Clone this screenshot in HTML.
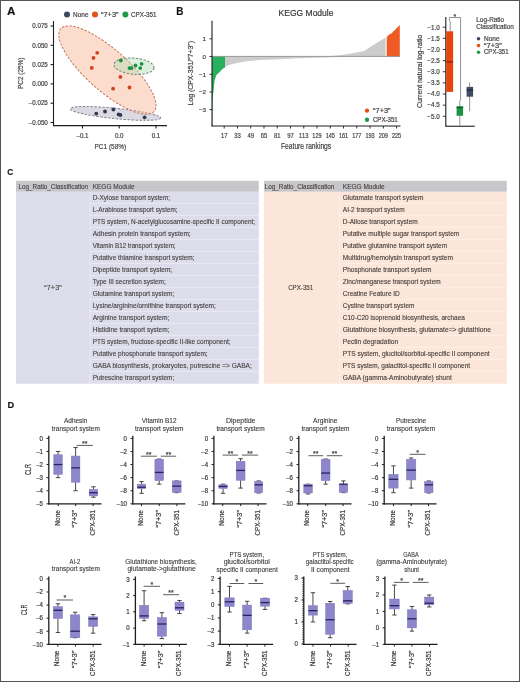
<!DOCTYPE html>
<html><head><meta charset="utf-8"><style>
html,body{margin:0;padding:0;background:#fff;width:520px;height:682px;overflow:hidden}
svg{display:block;font-family:"Liberation Sans", sans-serif;filter:blur(0.35px);}
text{stroke:#444;stroke-width:0.2px;}
text.t{stroke:#555;stroke-width:0.12px;}
</style></head><body>
<svg width="520" height="682" viewBox="0 0 520 682">
<rect x="0" y="0" width="520" height="682" fill="#fff"/>
<rect x="0.5" y="0.5" width="519" height="681" fill="none" stroke="#555" stroke-width="1"/>
<text x="7" y="14.9" font-size="11.0" text-anchor="start" fill="#111" font-weight="bold" textLength="8.4" lengthAdjust="spacingAndGlyphs">A</text>
<text x="176.2" y="15.2" font-size="11.0" text-anchor="start" fill="#111" font-weight="bold" textLength="7.2" lengthAdjust="spacingAndGlyphs">B</text>
<text x="7.2" y="174.7" font-size="9.6" text-anchor="start" fill="#111" font-weight="bold" textLength="6.0" lengthAdjust="spacingAndGlyphs">C</text>
<text x="7.4" y="407.8" font-size="9.4" text-anchor="start" fill="#111" font-weight="bold" textLength="6.7" lengthAdjust="spacingAndGlyphs">D</text>
<circle cx="67" cy="14.6" r="3" fill="#3c475f"/>
<text x="73.1" y="16.9" font-size="6.9" text-anchor="start" fill="#444" textLength="15.4" lengthAdjust="spacingAndGlyphs">None</text>
<circle cx="95" cy="14.6" r="3" fill="#e4501c"/>
<text x="101" y="16.9" font-size="6.9" text-anchor="start" fill="#444" textLength="17.5" lengthAdjust="spacingAndGlyphs">“7+3”</text>
<circle cx="125.4" cy="14.6" r="3" fill="#1f9a4a"/>
<text x="131" y="16.9" font-size="6.9" text-anchor="start" fill="#444" textLength="25.5" lengthAdjust="spacingAndGlyphs">CPX-351</text>
<ellipse cx="115.5" cy="113.45" rx="45.3" ry="5.2" transform="rotate(5.8 115.5 113.45)" fill="#d2d1dc" fill-opacity="0.8" stroke="#7c818e" stroke-width="1" stroke-dasharray="2.4 1.5"/>
<ellipse cx="107.4" cy="70.1" rx="62.4" ry="20.7" transform="rotate(41.6 107.4 70.1)" fill="#f9bfa2" fill-opacity="0.55" stroke="#c4775c" stroke-width="1" stroke-dasharray="2.4 1.5"/>
<ellipse cx="134.0" cy="66.15" rx="20.1" ry="8.1" transform="rotate(5.0 134.0 66.15)" fill="#b8dcb8" fill-opacity="0.45" stroke="#6f8c74" stroke-width="1" stroke-dasharray="2.4 1.5"/>
<circle cx="97.2" cy="52.8" r="1.9" fill="#d2401c"/>
<circle cx="93.5" cy="57.9" r="1.9" fill="#d2401c"/>
<circle cx="91.8" cy="67.9" r="1.9" fill="#d2401c"/>
<circle cx="120.4" cy="76.9" r="1.9" fill="#d2401c"/>
<circle cx="113.1" cy="88.7" r="1.9" fill="#d2401c"/>
<circle cx="129.5" cy="87.5" r="1.9" fill="#d2401c"/>
<circle cx="120.8" cy="60.5" r="1.9" fill="#169443"/>
<circle cx="129.5" cy="68.1" r="1.9" fill="#169443"/>
<circle cx="131.5" cy="68.1" r="1.9" fill="#169443"/>
<circle cx="135.5" cy="65.5" r="1.9" fill="#169443"/>
<circle cx="140.2" cy="68.1" r="1.9" fill="#169443"/>
<circle cx="141.6" cy="63.8" r="1.9" fill="#169443"/>
<circle cx="96.3" cy="113.6" r="1.9" fill="#2f3850"/>
<circle cx="105" cy="111.5" r="1.9" fill="#2f3850"/>
<circle cx="113.4" cy="109.5" r="1.9" fill="#2f3850"/>
<circle cx="118.6" cy="114.4" r="1.9" fill="#2f3850"/>
<circle cx="120.4" cy="115" r="1.9" fill="#2f3850"/>
<circle cx="144.6" cy="117.3" r="1.9" fill="#2f3850"/>
<line x1="53.5" y1="21" x2="53.5" y2="126" stroke="#1e1e1e" stroke-width="1.1"/>
<line x1="53" y1="125.6" x2="167" y2="125.6" stroke="#1e1e1e" stroke-width="1.1"/>
<line x1="50.6" y1="26" x2="53.5" y2="26" stroke="#1e1e1e" stroke-width="1.1"/>
<text x="47.8" y="28.2" font-size="6.6" text-anchor="end" fill="#444" textLength="15.52" lengthAdjust="spacingAndGlyphs">0.075</text>
<line x1="50.6" y1="45.3" x2="53.5" y2="45.3" stroke="#1e1e1e" stroke-width="1.1"/>
<text x="47.8" y="47.5" font-size="6.6" text-anchor="end" fill="#444" textLength="15.52" lengthAdjust="spacingAndGlyphs">0.050</text>
<line x1="50.6" y1="64.6" x2="53.5" y2="64.6" stroke="#1e1e1e" stroke-width="1.1"/>
<text x="47.8" y="66.8" font-size="6.6" text-anchor="end" fill="#444" textLength="15.52" lengthAdjust="spacingAndGlyphs">0.025</text>
<line x1="50.6" y1="83.9" x2="53.5" y2="83.9" stroke="#1e1e1e" stroke-width="1.1"/>
<text x="47.8" y="86.10000000000001" font-size="6.6" text-anchor="end" fill="#444" textLength="15.52" lengthAdjust="spacingAndGlyphs">0.000</text>
<line x1="50.6" y1="103.2" x2="53.5" y2="103.2" stroke="#1e1e1e" stroke-width="1.1"/>
<text x="47.8" y="105.4" font-size="6.6" text-anchor="end" fill="#444" textLength="18.96" lengthAdjust="spacingAndGlyphs">–0.025</text>
<line x1="50.6" y1="122.5" x2="53.5" y2="122.5" stroke="#1e1e1e" stroke-width="1.1"/>
<text x="47.8" y="124.7" font-size="6.6" text-anchor="end" fill="#444" textLength="18.96" lengthAdjust="spacingAndGlyphs">–0.050</text>
<line x1="82.5" y1="125.6" x2="82.5" y2="128.5" stroke="#1e1e1e" stroke-width="1.1"/>
<text x="82.5" y="137.8" font-size="6.6" text-anchor="middle" fill="#444" textLength="12.07" lengthAdjust="spacingAndGlyphs">–0.1</text>
<line x1="119.2" y1="125.6" x2="119.2" y2="128.5" stroke="#1e1e1e" stroke-width="1.1"/>
<text x="119.2" y="137.8" font-size="6.6" text-anchor="middle" fill="#444" textLength="8.62" lengthAdjust="spacingAndGlyphs">0.0</text>
<line x1="156" y1="125.6" x2="156" y2="128.5" stroke="#1e1e1e" stroke-width="1.1"/>
<text x="156" y="137.8" font-size="6.6" text-anchor="middle" fill="#444" textLength="8.62" lengthAdjust="spacingAndGlyphs">0.1</text>
<text x="110.4" y="149.1" font-size="7.7" text-anchor="middle" fill="#444" textLength="31.7" lengthAdjust="spacingAndGlyphs">PC1 (58%)</text>
<text x="23.4" y="73.3" font-size="7.9" text-anchor="middle" fill="#444" textLength="31.3" lengthAdjust="spacingAndGlyphs" transform="rotate(-90 23.4 73.3)">PC2 (25%)</text>
<text x="306.0" y="15.9" font-size="8.6" text-anchor="middle" fill="#333" textLength="55.0" lengthAdjust="spacingAndGlyphs">KEGG Module</text>
<polygon points="225,56.5 225,66.9 227.7,65.5 231.5,64.3 239.2,62.4 246.9,61.2 260,60.1 274,59.4 299,58.3 324,57.5 344,56.8 346,56.5" fill="#cccccc"/>
<polygon points="326,56.5 340,55.3 349.6,53.7 359.2,51.9 364,51 368.8,48.1 373.7,44.7 378.5,41.8 383.3,38.9 385.6,37.4 385.6,56.5" fill="#cccccc"/>
<polygon points="212,56.5 225,56.5 225,67.6 222.7,68.8 220.6,70.9 219.4,72.3 217.7,73.8 216.2,75.2 215.6,77.6 214.7,80 214.3,83.5 213.9,86.4 213.6,90.5 213,95.2 212.7,100 212.5,110 212.3,126 212,126" fill="#28b05e"/>
<polygon points="386.7,56.5 386.7,36.9 389.8,34 391.5,33.5 396,28.8 399.8,25.0 399.8,56.5" fill="#f05a24"/>
<line x1="212" y1="56.4" x2="400" y2="56.4" stroke="#8f8f8f" stroke-width="0.9"/>
<line x1="212" y1="20.8" x2="212" y2="126.3" stroke="#1e1e1e" stroke-width="1.1"/>
<line x1="211.5" y1="126" x2="400.5" y2="126" stroke="#1e1e1e" stroke-width="1.1"/>
<line x1="209.5" y1="38.8" x2="212" y2="38.8" stroke="#1e1e1e" stroke-width="0.9"/>
<text x="206" y="41.0" font-size="6.2" text-anchor="end" fill="#444">1</text>
<line x1="209.5" y1="56.5" x2="212" y2="56.5" stroke="#1e1e1e" stroke-width="0.9"/>
<text x="206" y="58.7" font-size="6.2" text-anchor="end" fill="#444">0</text>
<line x1="209.5" y1="74.3" x2="212" y2="74.3" stroke="#1e1e1e" stroke-width="0.9"/>
<text x="206" y="76.5" font-size="6.2" text-anchor="end" fill="#444">−1</text>
<line x1="209.5" y1="92.0" x2="212" y2="92.0" stroke="#1e1e1e" stroke-width="0.9"/>
<text x="206" y="94.2" font-size="6.2" text-anchor="end" fill="#444">−2</text>
<line x1="209.5" y1="109.6" x2="212" y2="109.6" stroke="#1e1e1e" stroke-width="0.9"/>
<text x="206" y="111.8" font-size="6.2" text-anchor="end" fill="#444">−3</text>
<line x1="224.2" y1="126" x2="224.2" y2="128.5" stroke="#1e1e1e" stroke-width="0.9"/>
<text x="224.2" y="138.0" font-size="7.2" text-anchor="middle" fill="#444" textLength="6.6" lengthAdjust="spacingAndGlyphs">17</text>
<line x1="237.45999999999998" y1="126" x2="237.45999999999998" y2="128.5" stroke="#1e1e1e" stroke-width="0.9"/>
<text x="237.45999999999998" y="138.0" font-size="7.2" text-anchor="middle" fill="#444" textLength="6.6" lengthAdjust="spacingAndGlyphs">33</text>
<line x1="250.72" y1="126" x2="250.72" y2="128.5" stroke="#1e1e1e" stroke-width="0.9"/>
<text x="250.72" y="138.0" font-size="7.2" text-anchor="middle" fill="#444" textLength="6.6" lengthAdjust="spacingAndGlyphs">49</text>
<line x1="263.98" y1="126" x2="263.98" y2="128.5" stroke="#1e1e1e" stroke-width="0.9"/>
<text x="263.98" y="138.0" font-size="7.2" text-anchor="middle" fill="#444" textLength="6.6" lengthAdjust="spacingAndGlyphs">65</text>
<line x1="277.24" y1="126" x2="277.24" y2="128.5" stroke="#1e1e1e" stroke-width="0.9"/>
<text x="277.24" y="138.0" font-size="7.2" text-anchor="middle" fill="#444" textLength="6.6" lengthAdjust="spacingAndGlyphs">81</text>
<line x1="290.5" y1="126" x2="290.5" y2="128.5" stroke="#1e1e1e" stroke-width="0.9"/>
<text x="290.5" y="138.0" font-size="7.2" text-anchor="middle" fill="#444" textLength="6.6" lengthAdjust="spacingAndGlyphs">97</text>
<line x1="303.76" y1="126" x2="303.76" y2="128.5" stroke="#1e1e1e" stroke-width="0.9"/>
<text x="303.76" y="138.0" font-size="7.2" text-anchor="middle" fill="#444" textLength="9.3" lengthAdjust="spacingAndGlyphs">113</text>
<line x1="317.02" y1="126" x2="317.02" y2="128.5" stroke="#1e1e1e" stroke-width="0.9"/>
<text x="317.02" y="138.0" font-size="7.2" text-anchor="middle" fill="#444" textLength="9.3" lengthAdjust="spacingAndGlyphs">129</text>
<line x1="330.28" y1="126" x2="330.28" y2="128.5" stroke="#1e1e1e" stroke-width="0.9"/>
<text x="330.28" y="138.0" font-size="7.2" text-anchor="middle" fill="#444" textLength="9.3" lengthAdjust="spacingAndGlyphs">145</text>
<line x1="343.53999999999996" y1="126" x2="343.53999999999996" y2="128.5" stroke="#1e1e1e" stroke-width="0.9"/>
<text x="343.53999999999996" y="138.0" font-size="7.2" text-anchor="middle" fill="#444" textLength="9.3" lengthAdjust="spacingAndGlyphs">161</text>
<line x1="356.79999999999995" y1="126" x2="356.79999999999995" y2="128.5" stroke="#1e1e1e" stroke-width="0.9"/>
<text x="356.79999999999995" y="138.0" font-size="7.2" text-anchor="middle" fill="#444" textLength="9.3" lengthAdjust="spacingAndGlyphs">177</text>
<line x1="370.05999999999995" y1="126" x2="370.05999999999995" y2="128.5" stroke="#1e1e1e" stroke-width="0.9"/>
<text x="370.05999999999995" y="138.0" font-size="7.2" text-anchor="middle" fill="#444" textLength="9.3" lengthAdjust="spacingAndGlyphs">193</text>
<line x1="383.32" y1="126" x2="383.32" y2="128.5" stroke="#1e1e1e" stroke-width="0.9"/>
<text x="383.32" y="138.0" font-size="7.2" text-anchor="middle" fill="#444" textLength="9.3" lengthAdjust="spacingAndGlyphs">209</text>
<line x1="396.58" y1="126" x2="396.58" y2="128.5" stroke="#1e1e1e" stroke-width="0.9"/>
<text x="396.58" y="138.0" font-size="7.2" text-anchor="middle" fill="#444" textLength="9.3" lengthAdjust="spacingAndGlyphs">225</text>
<text x="306.1" y="149.4" font-size="8.4" text-anchor="middle" fill="#444" textLength="50.2" lengthAdjust="spacingAndGlyphs">Feature rankings</text>
<text x="193.4" y="73.3" font-size="7.6" text-anchor="middle" fill="#444" textLength="64.5" lengthAdjust="spacingAndGlyphs" transform="rotate(-90 193.4 73.3)">Log (CPX-351/“7+3”)</text>
<circle cx="367" cy="110.6" r="2.2" fill="#e4501c"/>
<text x="373.1" y="113.2" font-size="6.5" text-anchor="start" fill="#444" textLength="17.4" lengthAdjust="spacingAndGlyphs">“7+3”</text>
<circle cx="367" cy="119.7" r="2.2" fill="#1f9a4a"/>
<text x="372.9" y="122.2" font-size="6.5" text-anchor="start" fill="#444" textLength="24.8" lengthAdjust="spacingAndGlyphs">CPX-351</text>
<line x1="445.8" y1="16.9" x2="445.8" y2="126.3" stroke="#1e1e1e" stroke-width="1.1"/>
<line x1="445.3" y1="126.25" x2="474.8" y2="126.25" stroke="#1e1e1e" stroke-width="1.1"/>
<line x1="442.8" y1="27.2" x2="445.8" y2="27.2" stroke="#1e1e1e" stroke-width="0.9"/>
<text x="439.8" y="29.5" font-size="6.3" text-anchor="end" fill="#444">−1.0</text>
<line x1="442.8" y1="38.34" x2="445.8" y2="38.34" stroke="#1e1e1e" stroke-width="0.9"/>
<text x="439.8" y="40.64" font-size="6.3" text-anchor="end" fill="#444">−1.5</text>
<line x1="442.8" y1="49.480000000000004" x2="445.8" y2="49.480000000000004" stroke="#1e1e1e" stroke-width="0.9"/>
<text x="439.8" y="51.78" font-size="6.3" text-anchor="end" fill="#444">−2.0</text>
<line x1="442.8" y1="60.620000000000005" x2="445.8" y2="60.620000000000005" stroke="#1e1e1e" stroke-width="0.9"/>
<text x="439.8" y="62.92" font-size="6.3" text-anchor="end" fill="#444">−2.5</text>
<line x1="442.8" y1="71.76" x2="445.8" y2="71.76" stroke="#1e1e1e" stroke-width="0.9"/>
<text x="439.8" y="74.06" font-size="6.3" text-anchor="end" fill="#444">−3.0</text>
<line x1="442.8" y1="82.9" x2="445.8" y2="82.9" stroke="#1e1e1e" stroke-width="0.9"/>
<text x="439.8" y="85.2" font-size="6.3" text-anchor="end" fill="#444">−3.5</text>
<line x1="442.8" y1="94.04" x2="445.8" y2="94.04" stroke="#1e1e1e" stroke-width="0.9"/>
<text x="439.8" y="96.34" font-size="6.3" text-anchor="end" fill="#444">−4.0</text>
<line x1="442.8" y1="105.18" x2="445.8" y2="105.18" stroke="#1e1e1e" stroke-width="0.9"/>
<text x="439.8" y="107.48" font-size="6.3" text-anchor="end" fill="#444">−4.5</text>
<line x1="442.8" y1="116.32000000000001" x2="445.8" y2="116.32000000000001" stroke="#1e1e1e" stroke-width="0.9"/>
<text x="439.8" y="118.62" font-size="6.3" text-anchor="end" fill="#444">−5.0</text>
<text x="421.8" y="71.4" font-size="7.5" text-anchor="middle" fill="#444" textLength="73.3" lengthAdjust="spacingAndGlyphs" transform="rotate(-90 421.8 71.4)">Current natural log-ratio</text>
<line x1="450.2" y1="21" x2="450.2" y2="31.3" stroke="#777" stroke-width="0.8"/>
<rect x="446.2" y="31.3" width="6.9" height="60.6" fill="#e8450e"/>
<line x1="446.2" y1="61.9" x2="453.1" y2="61.9" stroke="#8a1a08" stroke-width="1.2"/>
<line x1="459.8" y1="100.6" x2="459.8" y2="125.5" stroke="#777" stroke-width="0.8"/>
<rect x="456.6" y="106.2" width="6.5" height="9.6" fill="#1b9545"/>
<line x1="456.6" y1="107.6" x2="463.1" y2="107.6" stroke="#0b5a26" stroke-width="1.2"/>
<line x1="469.6" y1="82.3" x2="469.6" y2="111.3" stroke="#777" stroke-width="0.8"/>
<rect x="466.6" y="86.9" width="6.5" height="9.8" fill="#404c60"/>
<line x1="466.6" y1="90" x2="473.1" y2="90" stroke="#222c3b" stroke-width="1.2"/>
<polyline points="449.4,21 449.4,17.5 460.6,17.5 460.6,100.6" fill="none" stroke="#777" stroke-width="0.8"/>
<text x="454.8" y="19.0" font-size="7" text-anchor="middle" fill="#444">*</text>
<text x="476.3" y="21.6" font-size="7.0" text-anchor="start" fill="#444" textLength="27.8" lengthAdjust="spacingAndGlyphs">Log-Ratio</text>
<text x="476.3" y="28.8" font-size="7.0" text-anchor="start" fill="#444" textLength="37.5" lengthAdjust="spacingAndGlyphs">Classification</text>
<circle cx="478.5" cy="38.7" r="1.8" fill="#3c475f"/>
<text x="484" y="40.7" font-size="6.7" text-anchor="start" fill="#444" textLength="15.5" lengthAdjust="spacingAndGlyphs">None</text>
<circle cx="478.5" cy="45.6" r="1.8" fill="#e4501c"/>
<text x="484" y="47.6" font-size="6.7" text-anchor="start" fill="#444" textLength="17.7" lengthAdjust="spacingAndGlyphs">“7+3”</text>
<circle cx="478.5" cy="52.3" r="1.8" fill="#1f9a4a"/>
<text x="484" y="54.4" font-size="6.7" text-anchor="start" fill="#444" textLength="24.5" lengthAdjust="spacingAndGlyphs">CPX-351</text>
<rect x="16" y="180.8" width="242.8" height="11.0" fill="#c7c6cb"/>
<rect x="16" y="191.8" width="242.8" height="191.9" fill="#dddcea"/>
<line x1="90" y1="203.4" x2="258.8" y2="203.4" stroke="#ffffff" stroke-width="0.7" stroke-opacity="0.55"/>
<line x1="90" y1="215.4" x2="258.8" y2="215.4" stroke="#ffffff" stroke-width="0.7" stroke-opacity="0.55"/>
<line x1="90" y1="227.4" x2="258.8" y2="227.4" stroke="#ffffff" stroke-width="0.7" stroke-opacity="0.55"/>
<line x1="90" y1="239.4" x2="258.8" y2="239.4" stroke="#ffffff" stroke-width="0.7" stroke-opacity="0.55"/>
<line x1="90" y1="251.4" x2="258.8" y2="251.4" stroke="#ffffff" stroke-width="0.7" stroke-opacity="0.55"/>
<line x1="90" y1="263.40000000000003" x2="258.8" y2="263.40000000000003" stroke="#ffffff" stroke-width="0.7" stroke-opacity="0.55"/>
<line x1="90" y1="275.40000000000003" x2="258.8" y2="275.40000000000003" stroke="#ffffff" stroke-width="0.7" stroke-opacity="0.55"/>
<line x1="90" y1="287.40000000000003" x2="258.8" y2="287.40000000000003" stroke="#ffffff" stroke-width="0.7" stroke-opacity="0.55"/>
<line x1="90" y1="299.40000000000003" x2="258.8" y2="299.40000000000003" stroke="#ffffff" stroke-width="0.7" stroke-opacity="0.55"/>
<line x1="90" y1="311.40000000000003" x2="258.8" y2="311.40000000000003" stroke="#ffffff" stroke-width="0.7" stroke-opacity="0.55"/>
<line x1="90" y1="323.40000000000003" x2="258.8" y2="323.40000000000003" stroke="#ffffff" stroke-width="0.7" stroke-opacity="0.55"/>
<line x1="90" y1="335.40000000000003" x2="258.8" y2="335.40000000000003" stroke="#ffffff" stroke-width="0.7" stroke-opacity="0.55"/>
<line x1="90" y1="347.40000000000003" x2="258.8" y2="347.40000000000003" stroke="#ffffff" stroke-width="0.7" stroke-opacity="0.55"/>
<line x1="90" y1="359.40000000000003" x2="258.8" y2="359.40000000000003" stroke="#ffffff" stroke-width="0.7" stroke-opacity="0.55"/>
<line x1="90" y1="371.40000000000003" x2="258.8" y2="371.40000000000003" stroke="#ffffff" stroke-width="0.7" stroke-opacity="0.55"/>
<line x1="90" y1="191.8" x2="90" y2="383.7" stroke="#ffffff" stroke-width="0.7" stroke-opacity="0.55"/>
<text x="18.5" y="188.7" font-size="6.5" text-anchor="start" fill="#3a3a3a" textLength="69.6" lengthAdjust="spacingAndGlyphs" class="t">Log_Ratio_Classification</text>
<text x="92.7" y="188.7" font-size="6.5" text-anchor="start" fill="#3a3a3a" class="t">KEGG Module</text>
<text x="92.7" y="199.5" font-size="6.5" text-anchor="start" fill="#3a3a3a" textLength="77.4" lengthAdjust="spacingAndGlyphs" class="t">D-Xylose transport system;</text>
<text x="92.7" y="211.5" font-size="6.5" text-anchor="start" fill="#3a3a3a" textLength="84.9" lengthAdjust="spacingAndGlyphs" class="t">L-Arabinose transport system;</text>
<text x="92.7" y="223.5" font-size="6.5" text-anchor="start" fill="#3a3a3a" textLength="162.4" lengthAdjust="spacingAndGlyphs" class="t">PTS system, N-acetylglucosamine-specific II component;</text>
<text x="92.7" y="235.5" font-size="6.5" text-anchor="start" fill="#3a3a3a" textLength="98.0" lengthAdjust="spacingAndGlyphs" class="t">Adhesin protein transport system;</text>
<text x="92.7" y="247.5" font-size="6.5" text-anchor="start" fill="#3a3a3a" textLength="82.9" lengthAdjust="spacingAndGlyphs" class="t">Vitamin B12 transport system;</text>
<text x="92.7" y="259.5" font-size="6.5" text-anchor="start" fill="#3a3a3a" textLength="101.9" lengthAdjust="spacingAndGlyphs" class="t">Putative thiamine transport system;</text>
<text x="92.7" y="271.5" font-size="6.5" text-anchor="start" fill="#3a3a3a" textLength="79.5" lengthAdjust="spacingAndGlyphs" class="t">Dipeptide transport system;</text>
<text x="92.7" y="283.5" font-size="6.5" text-anchor="start" fill="#3a3a3a" textLength="73.1" lengthAdjust="spacingAndGlyphs" class="t">Type III secretion system;</text>
<text x="92.7" y="295.5" font-size="6.5" text-anchor="start" fill="#3a3a3a" textLength="81.6" lengthAdjust="spacingAndGlyphs" class="t">Glutamine transport system;</text>
<text x="92.7" y="307.5" font-size="6.5" text-anchor="start" fill="#3a3a3a" textLength="123.2" lengthAdjust="spacingAndGlyphs" class="t">Lysine/arginine/ornithine transport system;</text>
<text x="92.7" y="319.5" font-size="6.5" text-anchor="start" fill="#3a3a3a" textLength="76.7" lengthAdjust="spacingAndGlyphs" class="t">Arginine transport system;</text>
<text x="92.7" y="331.5" font-size="6.5" text-anchor="start" fill="#3a3a3a" textLength="76.7" lengthAdjust="spacingAndGlyphs" class="t">Histidine transport system;</text>
<text x="92.7" y="343.5" font-size="6.5" text-anchor="start" fill="#3a3a3a" textLength="137.9" lengthAdjust="spacingAndGlyphs" class="t">PTS system, fructose-specific II-like component;</text>
<text x="92.7" y="355.5" font-size="6.5" text-anchor="start" fill="#3a3a3a" textLength="115.0" lengthAdjust="spacingAndGlyphs" class="t">Putative phosphonate transport system;</text>
<text x="92.7" y="367.5" font-size="6.5" text-anchor="start" fill="#3a3a3a" textLength="159.1" lengthAdjust="spacingAndGlyphs" class="t">GABA biosynthesis, prokaryotes, putrescine =&gt; GABA;</text>
<text x="92.7" y="379.5" font-size="6.5" text-anchor="start" fill="#3a3a3a" textLength="81.6" lengthAdjust="spacingAndGlyphs" class="t">Putrescine transport system;</text>
<text x="53" y="289.9" font-size="6.5" text-anchor="middle" fill="#3a3a3a" textLength="17.3" lengthAdjust="spacingAndGlyphs" class="t">“7+3”</text>
<rect x="264" y="180.8" width="242.8" height="11.0" fill="#c7c6cb"/>
<rect x="264" y="191.8" width="242.8" height="191.9" fill="#fce6da"/>
<line x1="339.5" y1="203.4" x2="506.8" y2="203.4" stroke="#ffffff" stroke-width="0.7" stroke-opacity="0.55"/>
<line x1="339.5" y1="215.4" x2="506.8" y2="215.4" stroke="#ffffff" stroke-width="0.7" stroke-opacity="0.55"/>
<line x1="339.5" y1="227.4" x2="506.8" y2="227.4" stroke="#ffffff" stroke-width="0.7" stroke-opacity="0.55"/>
<line x1="339.5" y1="239.4" x2="506.8" y2="239.4" stroke="#ffffff" stroke-width="0.7" stroke-opacity="0.55"/>
<line x1="339.5" y1="251.4" x2="506.8" y2="251.4" stroke="#ffffff" stroke-width="0.7" stroke-opacity="0.55"/>
<line x1="339.5" y1="263.40000000000003" x2="506.8" y2="263.40000000000003" stroke="#ffffff" stroke-width="0.7" stroke-opacity="0.55"/>
<line x1="339.5" y1="275.40000000000003" x2="506.8" y2="275.40000000000003" stroke="#ffffff" stroke-width="0.7" stroke-opacity="0.55"/>
<line x1="339.5" y1="287.40000000000003" x2="506.8" y2="287.40000000000003" stroke="#ffffff" stroke-width="0.7" stroke-opacity="0.55"/>
<line x1="339.5" y1="299.40000000000003" x2="506.8" y2="299.40000000000003" stroke="#ffffff" stroke-width="0.7" stroke-opacity="0.55"/>
<line x1="339.5" y1="311.40000000000003" x2="506.8" y2="311.40000000000003" stroke="#ffffff" stroke-width="0.7" stroke-opacity="0.55"/>
<line x1="339.5" y1="323.40000000000003" x2="506.8" y2="323.40000000000003" stroke="#ffffff" stroke-width="0.7" stroke-opacity="0.55"/>
<line x1="339.5" y1="335.40000000000003" x2="506.8" y2="335.40000000000003" stroke="#ffffff" stroke-width="0.7" stroke-opacity="0.55"/>
<line x1="339.5" y1="347.40000000000003" x2="506.8" y2="347.40000000000003" stroke="#ffffff" stroke-width="0.7" stroke-opacity="0.55"/>
<line x1="339.5" y1="359.40000000000003" x2="506.8" y2="359.40000000000003" stroke="#ffffff" stroke-width="0.7" stroke-opacity="0.55"/>
<line x1="339.5" y1="371.40000000000003" x2="506.8" y2="371.40000000000003" stroke="#ffffff" stroke-width="0.7" stroke-opacity="0.55"/>
<line x1="339.5" y1="191.8" x2="339.5" y2="383.7" stroke="#ffffff" stroke-width="0.7" stroke-opacity="0.55"/>
<text x="264.8" y="188.7" font-size="6.5" text-anchor="start" fill="#3d3630" textLength="69.6" lengthAdjust="spacingAndGlyphs" class="t">Log_Ratio_Classification</text>
<text x="342.8" y="188.7" font-size="6.5" text-anchor="start" fill="#3d3630" class="t">KEGG Module</text>
<text x="342.8" y="199.5" font-size="6.5" text-anchor="start" fill="#3d3630" textLength="80.6" lengthAdjust="spacingAndGlyphs" class="t">Glutamate transport system</text>
<text x="342.8" y="211.5" font-size="6.5" text-anchor="start" fill="#3d3630" textLength="61.9" lengthAdjust="spacingAndGlyphs" class="t">AI-2 transport system</text>
<text x="342.8" y="223.5" font-size="6.5" text-anchor="start" fill="#3d3630" textLength="75.0" lengthAdjust="spacingAndGlyphs" class="t">D-Allose transport system</text>
<text x="342.8" y="235.5" font-size="6.5" text-anchor="start" fill="#3d3630" textLength="116.5" lengthAdjust="spacingAndGlyphs" class="t">Putative multiple sugar transport system</text>
<text x="342.8" y="247.5" font-size="6.5" text-anchor="start" fill="#3d3630" textLength="104.4" lengthAdjust="spacingAndGlyphs" class="t">Putative glutamine transport system</text>
<text x="342.8" y="259.5" font-size="6.5" text-anchor="start" fill="#3d3630" textLength="110.3" lengthAdjust="spacingAndGlyphs" class="t">Multidrug/hemolysin transport system</text>
<text x="342.8" y="271.5" font-size="6.5" text-anchor="start" fill="#3d3630" textLength="88.7" lengthAdjust="spacingAndGlyphs" class="t">Phosphonate transport system</text>
<text x="342.8" y="283.5" font-size="6.5" text-anchor="start" fill="#3d3630" textLength="97.9" lengthAdjust="spacingAndGlyphs" class="t">Zinc/manganese transport system</text>
<text x="342.8" y="295.5" font-size="6.5" text-anchor="start" fill="#3d3630" textLength="57.0" lengthAdjust="spacingAndGlyphs" class="t">Creatine Feature ID</text>
<text x="342.8" y="307.5" font-size="6.5" text-anchor="start" fill="#3d3630" textLength="71.7" lengthAdjust="spacingAndGlyphs" class="t">Cystine transport system</text>
<text x="342.8" y="319.5" font-size="6.5" text-anchor="start" fill="#3d3630" textLength="122.1" lengthAdjust="spacingAndGlyphs" class="t">C10-C20 isoprenoid biosynthesis, archaea</text>
<text x="342.8" y="331.5" font-size="6.5" text-anchor="start" fill="#3d3630" textLength="148.2" lengthAdjust="spacingAndGlyphs" class="t">Glutathione biosynthesis, glutamate=&gt; glutathione</text>
<text x="342.8" y="343.5" font-size="6.5" text-anchor="start" fill="#3d3630" textLength="55.4" lengthAdjust="spacingAndGlyphs" class="t">Pectin degradation</text>
<text x="342.8" y="355.5" font-size="6.5" text-anchor="start" fill="#3d3630" textLength="146.9" lengthAdjust="spacingAndGlyphs" class="t">PTS system, glucitol/sorbitol-specific II component</text>
<text x="342.8" y="367.5" font-size="6.5" text-anchor="start" fill="#3d3630" textLength="127.3" lengthAdjust="spacingAndGlyphs" class="t">PTS system, galactitol-specific II component</text>
<text x="342.8" y="379.5" font-size="6.5" text-anchor="start" fill="#3d3630" textLength="109.0" lengthAdjust="spacingAndGlyphs" class="t">GABA (gamma-Aminobutyrate) shunt</text>
<text x="300.7" y="289.9" font-size="6.5" text-anchor="middle" fill="#3d3630" textLength="25.1" lengthAdjust="spacingAndGlyphs" class="t">CPX-351</text>
<text x="75.7" y="423.3" font-size="6.8" text-anchor="middle" fill="#333" textLength="23.4" lengthAdjust="spacingAndGlyphs" class="t">Adhesin</text>
<text x="75.85" y="431.1" font-size="6.8" text-anchor="middle" fill="#333" textLength="48.1" lengthAdjust="spacingAndGlyphs" class="t">transport system</text>
<line x1="58.05" y1="451.47999999999996" x2="58.05" y2="454.75" stroke="#333" stroke-width="0.9"/>
<line x1="55.849999999999994" y1="451.47999999999996" x2="60.25" y2="451.47999999999996" stroke="#333" stroke-width="0.9"/>
<line x1="55.849999999999994" y1="477.64" x2="60.25" y2="477.64" stroke="#333" stroke-width="0.9"/>
<line x1="58.05" y1="474.37" x2="58.05" y2="477.64" stroke="#333" stroke-width="0.9"/>
<rect x="53.8" y="454.75" width="8.5" height="19.620000000000005" fill="#8d86cb" stroke="#7a72bd" stroke-width="0.5"/>
<line x1="53.8" y1="464.56" x2="62.3" y2="464.56" stroke="#2a2162" stroke-width="1.3"/>
<line x1="75.6" y1="447.556" x2="75.6" y2="456.058" stroke="#333" stroke-width="0.9"/>
<line x1="73.39999999999999" y1="447.556" x2="77.8" y2="447.556" stroke="#333" stroke-width="0.9"/>
<line x1="73.39999999999999" y1="490.72" x2="77.8" y2="490.72" stroke="#333" stroke-width="0.9"/>
<line x1="75.6" y1="482.218" x2="75.6" y2="490.72" stroke="#333" stroke-width="0.9"/>
<rect x="71.3" y="456.058" width="8.600000000000009" height="26.160000000000025" fill="#8d86cb" stroke="#7a72bd" stroke-width="0.5"/>
<line x1="71.3" y1="467.83" x2="79.9" y2="467.83" stroke="#2a2162" stroke-width="1.3"/>
<line x1="93.45" y1="486.796" x2="93.45" y2="489.412" stroke="#333" stroke-width="0.9"/>
<line x1="91.25" y1="486.796" x2="95.65" y2="486.796" stroke="#333" stroke-width="0.9"/>
<line x1="91.25" y1="497.26" x2="95.65" y2="497.26" stroke="#333" stroke-width="0.9"/>
<line x1="93.45" y1="495.952" x2="93.45" y2="497.26" stroke="#333" stroke-width="0.9"/>
<rect x="89.2" y="489.412" width="8.5" height="6.5400000000000205" fill="#8d86cb" stroke="#7a72bd" stroke-width="0.5"/>
<line x1="89.2" y1="492.682" x2="97.7" y2="492.682" stroke="#2a2162" stroke-width="1.3"/>
<line x1="76.6" y1="445.4" x2="92.8" y2="445.4" stroke="#333" stroke-width="0.8"/>
<text x="84.69999999999999" y="445.84999999999997" font-size="7" text-anchor="middle" fill="#333">**</text>
<line x1="48.8" y1="435.8" x2="48.8" y2="504.40000000000003" stroke="#1e1e1e" stroke-width="1.3"/>
<line x1="48.199999999999996" y1="503.8" x2="101.5" y2="503.8" stroke="#1e1e1e" stroke-width="1.3"/>
<line x1="46.5" y1="438.4" x2="48.8" y2="438.4" stroke="#1e1e1e" stroke-width="1.0"/>
<text x="43.0" y="440.75" font-size="6.6" text-anchor="end" fill="#333" textLength="3.39" lengthAdjust="spacingAndGlyphs">0</text>
<line x1="46.5" y1="451.47999999999996" x2="48.8" y2="451.47999999999996" stroke="#1e1e1e" stroke-width="1.0"/>
<text x="43.0" y="453.83" font-size="6.6" text-anchor="end" fill="#333" textLength="6.79" lengthAdjust="spacingAndGlyphs">–1</text>
<line x1="46.5" y1="464.56" x2="48.8" y2="464.56" stroke="#1e1e1e" stroke-width="1.0"/>
<text x="43.0" y="466.91" font-size="6.6" text-anchor="end" fill="#333" textLength="6.79" lengthAdjust="spacingAndGlyphs">–2</text>
<line x1="46.5" y1="477.64" x2="48.8" y2="477.64" stroke="#1e1e1e" stroke-width="1.0"/>
<text x="43.0" y="479.99" font-size="6.6" text-anchor="end" fill="#333" textLength="6.79" lengthAdjust="spacingAndGlyphs">–3</text>
<line x1="46.5" y1="490.72" x2="48.8" y2="490.72" stroke="#1e1e1e" stroke-width="1.0"/>
<text x="43.0" y="493.07000000000005" font-size="6.6" text-anchor="end" fill="#333" textLength="6.79" lengthAdjust="spacingAndGlyphs">–4</text>
<line x1="46.5" y1="503.8" x2="48.8" y2="503.8" stroke="#1e1e1e" stroke-width="1.0"/>
<text x="43.0" y="506.15000000000003" font-size="6.6" text-anchor="end" fill="#333" textLength="6.79" lengthAdjust="spacingAndGlyphs">–5</text>
<line x1="58.2" y1="503.8" x2="58.2" y2="506.1" stroke="#1e1e1e" stroke-width="1.0"/>
<line x1="75.7" y1="503.8" x2="75.7" y2="506.1" stroke="#1e1e1e" stroke-width="1.0"/>
<line x1="93.1" y1="503.8" x2="93.1" y2="506.1" stroke="#1e1e1e" stroke-width="1.0"/>
<text x="59.900000000000006" y="510.1" font-size="6.7" text-anchor="end" fill="#333" textLength="15.6" lengthAdjust="spacingAndGlyphs" transform="rotate(-90 59.900000000000006 510.1)">None</text>
<text x="77.4" y="510.1" font-size="6.7" text-anchor="end" fill="#333" textLength="17.3" lengthAdjust="spacingAndGlyphs" transform="rotate(-90 77.4 510.1)">“7+3”</text>
<text x="94.8" y="510.1" font-size="6.7" text-anchor="end" fill="#333" textLength="25.4" lengthAdjust="spacingAndGlyphs" transform="rotate(-90 94.8 510.1)">CPX-351</text>
<text x="159.2" y="423.3" font-size="6.8" text-anchor="middle" fill="#333" textLength="34.7" lengthAdjust="spacingAndGlyphs" class="t">Vitamin B12</text>
<text x="159.3" y="431.1" font-size="6.8" text-anchor="middle" fill="#333" textLength="48.4" lengthAdjust="spacingAndGlyphs" class="t">transport system</text>
<line x1="141.55" y1="481.564" x2="141.55" y2="484.18" stroke="#333" stroke-width="0.9"/>
<line x1="139.35000000000002" y1="481.564" x2="143.75" y2="481.564" stroke="#333" stroke-width="0.9"/>
<line x1="139.35000000000002" y1="493.336" x2="143.75" y2="493.336" stroke="#333" stroke-width="0.9"/>
<line x1="141.55" y1="488.6272" x2="141.55" y2="493.336" stroke="#333" stroke-width="0.9"/>
<rect x="137.4" y="484.18" width="8.299999999999983" height="4.447200000000009" fill="#8d86cb" stroke="#7a72bd" stroke-width="0.5"/>
<line x1="137.4" y1="487.1884" x2="145.7" y2="487.1884" stroke="#2a2162" stroke-width="1.3"/>
<line x1="159.2" y1="459.001" x2="159.2" y2="459.328" stroke="#333" stroke-width="0.9"/>
<line x1="157.0" y1="459.001" x2="161.39999999999998" y2="459.001" stroke="#333" stroke-width="0.9"/>
<line x1="157.0" y1="484.18" x2="161.39999999999998" y2="484.18" stroke="#333" stroke-width="0.9"/>
<line x1="159.2" y1="480.58299999999997" x2="159.2" y2="484.18" stroke="#333" stroke-width="0.9"/>
<rect x="154.9" y="459.328" width="8.599999999999994" height="21.254999999999995" fill="#8d86cb" stroke="#7a72bd" stroke-width="0.5"/>
<line x1="154.9" y1="472.408" x2="163.5" y2="472.408" stroke="#2a2162" stroke-width="1.3"/>
<line x1="176.7" y1="480.91" x2="176.7" y2="480.91" stroke="#333" stroke-width="0.9"/>
<line x1="174.5" y1="480.91" x2="178.89999999999998" y2="480.91" stroke="#333" stroke-width="0.9"/>
<line x1="174.5" y1="492.682" x2="178.89999999999998" y2="492.682" stroke="#333" stroke-width="0.9"/>
<line x1="176.7" y1="492.355" x2="176.7" y2="492.682" stroke="#333" stroke-width="0.9"/>
<rect x="172.3" y="480.91" width="8.799999999999983" height="11.444999999999993" fill="#8d86cb" stroke="#7a72bd" stroke-width="0.5"/>
<line x1="172.3" y1="486.142" x2="181.1" y2="486.142" stroke="#2a2162" stroke-width="1.3"/>
<line x1="140.8" y1="456.2" x2="156.9" y2="456.2" stroke="#333" stroke-width="0.8"/>
<text x="148.85000000000002" y="456.65" font-size="7" text-anchor="middle" fill="#333">**</text>
<line x1="160.8" y1="456.2" x2="176.2" y2="456.2" stroke="#333" stroke-width="0.8"/>
<text x="168.5" y="456.65" font-size="7" text-anchor="middle" fill="#333">**</text>
<line x1="132.8" y1="435.8" x2="132.8" y2="504.40000000000003" stroke="#1e1e1e" stroke-width="1.3"/>
<line x1="132.20000000000002" y1="503.8" x2="185.4" y2="503.8" stroke="#1e1e1e" stroke-width="1.3"/>
<line x1="130.5" y1="438.4" x2="132.8" y2="438.4" stroke="#1e1e1e" stroke-width="1.0"/>
<text x="127.00000000000001" y="440.75" font-size="6.6" text-anchor="end" fill="#333" textLength="3.39" lengthAdjust="spacingAndGlyphs">0</text>
<line x1="130.5" y1="451.47999999999996" x2="132.8" y2="451.47999999999996" stroke="#1e1e1e" stroke-width="1.0"/>
<text x="127.00000000000001" y="453.83" font-size="6.6" text-anchor="end" fill="#333" textLength="6.79" lengthAdjust="spacingAndGlyphs">–2</text>
<line x1="130.5" y1="464.56" x2="132.8" y2="464.56" stroke="#1e1e1e" stroke-width="1.0"/>
<text x="127.00000000000001" y="466.91" font-size="6.6" text-anchor="end" fill="#333" textLength="6.79" lengthAdjust="spacingAndGlyphs">–4</text>
<line x1="130.5" y1="477.64" x2="132.8" y2="477.64" stroke="#1e1e1e" stroke-width="1.0"/>
<text x="127.00000000000001" y="479.99" font-size="6.6" text-anchor="end" fill="#333" textLength="6.79" lengthAdjust="spacingAndGlyphs">–6</text>
<line x1="130.5" y1="490.72" x2="132.8" y2="490.72" stroke="#1e1e1e" stroke-width="1.0"/>
<text x="127.00000000000001" y="493.07000000000005" font-size="6.6" text-anchor="end" fill="#333" textLength="6.79" lengthAdjust="spacingAndGlyphs">–8</text>
<line x1="130.5" y1="503.8" x2="132.8" y2="503.8" stroke="#1e1e1e" stroke-width="1.0"/>
<text x="127.00000000000001" y="506.15000000000003" font-size="6.6" text-anchor="end" fill="#333" textLength="10.18" lengthAdjust="spacingAndGlyphs">–10</text>
<line x1="141.5" y1="503.8" x2="141.5" y2="506.1" stroke="#1e1e1e" stroke-width="1.0"/>
<line x1="159.2" y1="503.8" x2="159.2" y2="506.1" stroke="#1e1e1e" stroke-width="1.0"/>
<line x1="176.9" y1="503.8" x2="176.9" y2="506.1" stroke="#1e1e1e" stroke-width="1.0"/>
<text x="143.2" y="510.1" font-size="6.7" text-anchor="end" fill="#333" textLength="15.6" lengthAdjust="spacingAndGlyphs" transform="rotate(-90 143.2 510.1)">None</text>
<text x="160.89999999999998" y="510.1" font-size="6.7" text-anchor="end" fill="#333" textLength="17.3" lengthAdjust="spacingAndGlyphs" transform="rotate(-90 160.89999999999998 510.1)">“7+3”</text>
<text x="178.6" y="510.1" font-size="6.7" text-anchor="end" fill="#333" textLength="25.4" lengthAdjust="spacingAndGlyphs" transform="rotate(-90 178.6 510.1)">CPX-351</text>
<text x="240.7" y="423.3" font-size="6.8" text-anchor="middle" fill="#333" textLength="29.6" lengthAdjust="spacingAndGlyphs" class="t">Dipeptide</text>
<text x="240.5" y="431.1" font-size="6.8" text-anchor="middle" fill="#333" textLength="48.2" lengthAdjust="spacingAndGlyphs" class="t">transport system</text>
<line x1="223.05" y1="484.18" x2="223.05" y2="484.834" stroke="#333" stroke-width="0.9"/>
<line x1="220.85000000000002" y1="484.18" x2="225.25" y2="484.18" stroke="#333" stroke-width="0.9"/>
<line x1="220.85000000000002" y1="493.336" x2="225.25" y2="493.336" stroke="#333" stroke-width="0.9"/>
<line x1="223.05" y1="488.431" x2="223.05" y2="493.336" stroke="#333" stroke-width="0.9"/>
<rect x="218.8" y="484.834" width="8.5" height="3.59699999999998" fill="#8d86cb" stroke="#7a72bd" stroke-width="0.5"/>
<line x1="218.8" y1="486.469" x2="227.3" y2="486.469" stroke="#2a2162" stroke-width="1.3"/>
<line x1="240.6" y1="458.674" x2="240.6" y2="461.28999999999996" stroke="#333" stroke-width="0.9"/>
<line x1="238.4" y1="458.674" x2="242.79999999999998" y2="458.674" stroke="#333" stroke-width="0.9"/>
<line x1="238.4" y1="488.104" x2="242.79999999999998" y2="488.104" stroke="#333" stroke-width="0.9"/>
<line x1="240.6" y1="480.256" x2="240.6" y2="488.104" stroke="#333" stroke-width="0.9"/>
<rect x="236.2" y="461.28999999999996" width="8.800000000000011" height="18.966000000000008" fill="#8d86cb" stroke="#7a72bd" stroke-width="0.5"/>
<line x1="236.2" y1="470.446" x2="245" y2="470.446" stroke="#2a2162" stroke-width="1.3"/>
<line x1="258.7" y1="480.91" x2="258.7" y2="481.564" stroke="#333" stroke-width="0.9"/>
<line x1="256.5" y1="480.91" x2="260.9" y2="480.91" stroke="#333" stroke-width="0.9"/>
<line x1="256.5" y1="493.009" x2="260.9" y2="493.009" stroke="#333" stroke-width="0.9"/>
<line x1="258.7" y1="492.682" x2="258.7" y2="493.009" stroke="#333" stroke-width="0.9"/>
<rect x="254.7" y="481.564" width="8.0" height="11.117999999999995" fill="#8d86cb" stroke="#7a72bd" stroke-width="0.5"/>
<line x1="254.7" y1="484.834" x2="262.7" y2="484.834" stroke="#2a2162" stroke-width="1.3"/>
<line x1="222.7" y1="455.1" x2="238.1" y2="455.1" stroke="#333" stroke-width="0.8"/>
<text x="230.39999999999998" y="455.55" font-size="7" text-anchor="middle" fill="#333">**</text>
<line x1="241.9" y1="455.1" x2="258.1" y2="455.1" stroke="#333" stroke-width="0.8"/>
<text x="250.0" y="455.55" font-size="7" text-anchor="middle" fill="#333">**</text>
<line x1="213.9" y1="435.8" x2="213.9" y2="504.40000000000003" stroke="#1e1e1e" stroke-width="1.3"/>
<line x1="213.3" y1="503.8" x2="266.5" y2="503.8" stroke="#1e1e1e" stroke-width="1.3"/>
<line x1="211.6" y1="438.4" x2="213.9" y2="438.4" stroke="#1e1e1e" stroke-width="1.0"/>
<text x="208.1" y="440.75" font-size="6.6" text-anchor="end" fill="#333" textLength="3.39" lengthAdjust="spacingAndGlyphs">0</text>
<line x1="211.6" y1="451.47999999999996" x2="213.9" y2="451.47999999999996" stroke="#1e1e1e" stroke-width="1.0"/>
<text x="208.1" y="453.83" font-size="6.6" text-anchor="end" fill="#333" textLength="6.79" lengthAdjust="spacingAndGlyphs">–2</text>
<line x1="211.6" y1="464.56" x2="213.9" y2="464.56" stroke="#1e1e1e" stroke-width="1.0"/>
<text x="208.1" y="466.91" font-size="6.6" text-anchor="end" fill="#333" textLength="6.79" lengthAdjust="spacingAndGlyphs">–4</text>
<line x1="211.6" y1="477.64" x2="213.9" y2="477.64" stroke="#1e1e1e" stroke-width="1.0"/>
<text x="208.1" y="479.99" font-size="6.6" text-anchor="end" fill="#333" textLength="6.79" lengthAdjust="spacingAndGlyphs">–6</text>
<line x1="211.6" y1="490.72" x2="213.9" y2="490.72" stroke="#1e1e1e" stroke-width="1.0"/>
<text x="208.1" y="493.07000000000005" font-size="6.6" text-anchor="end" fill="#333" textLength="6.79" lengthAdjust="spacingAndGlyphs">–8</text>
<line x1="211.6" y1="503.8" x2="213.9" y2="503.8" stroke="#1e1e1e" stroke-width="1.0"/>
<text x="208.1" y="506.15000000000003" font-size="6.6" text-anchor="end" fill="#333" textLength="10.18" lengthAdjust="spacingAndGlyphs">–10</text>
<line x1="222.7" y1="503.8" x2="222.7" y2="506.1" stroke="#1e1e1e" stroke-width="1.0"/>
<line x1="240.7" y1="503.8" x2="240.7" y2="506.1" stroke="#1e1e1e" stroke-width="1.0"/>
<line x1="258.1" y1="503.8" x2="258.1" y2="506.1" stroke="#1e1e1e" stroke-width="1.0"/>
<text x="224.39999999999998" y="510.1" font-size="6.7" text-anchor="end" fill="#333" textLength="15.6" lengthAdjust="spacingAndGlyphs" transform="rotate(-90 224.39999999999998 510.1)">None</text>
<text x="242.39999999999998" y="510.1" font-size="6.7" text-anchor="end" fill="#333" textLength="17.3" lengthAdjust="spacingAndGlyphs" transform="rotate(-90 242.39999999999998 510.1)">“7+3”</text>
<text x="259.8" y="510.1" font-size="6.7" text-anchor="end" fill="#333" textLength="25.4" lengthAdjust="spacingAndGlyphs" transform="rotate(-90 259.8 510.1)">CPX-351</text>
<text x="325.25" y="423.3" font-size="6.8" text-anchor="middle" fill="#333" textLength="24.3" lengthAdjust="spacingAndGlyphs" class="t">Arginine</text>
<text x="325.5" y="431.1" font-size="6.8" text-anchor="middle" fill="#333" textLength="48.1" lengthAdjust="spacingAndGlyphs" class="t">transport system</text>
<line x1="308.05" y1="484.18" x2="308.05" y2="484.18" stroke="#333" stroke-width="0.9"/>
<line x1="305.85" y1="484.18" x2="310.25" y2="484.18" stroke="#333" stroke-width="0.9"/>
<line x1="305.85" y1="493.99" x2="310.25" y2="493.99" stroke="#333" stroke-width="0.9"/>
<line x1="308.05" y1="493.009" x2="308.05" y2="493.99" stroke="#333" stroke-width="0.9"/>
<rect x="303.8" y="484.18" width="8.5" height="8.829000000000008" fill="#8d86cb" stroke="#7a72bd" stroke-width="0.5"/>
<line x1="303.8" y1="485.815" x2="312.3" y2="485.815" stroke="#2a2162" stroke-width="1.3"/>
<line x1="325.6" y1="459.001" x2="325.6" y2="459.328" stroke="#333" stroke-width="0.9"/>
<line x1="323.40000000000003" y1="459.001" x2="327.8" y2="459.001" stroke="#333" stroke-width="0.9"/>
<line x1="323.40000000000003" y1="484.18" x2="327.8" y2="484.18" stroke="#333" stroke-width="0.9"/>
<line x1="325.6" y1="480.58299999999997" x2="325.6" y2="484.18" stroke="#333" stroke-width="0.9"/>
<rect x="321.2" y="459.328" width="8.800000000000011" height="21.254999999999995" fill="#8d86cb" stroke="#7a72bd" stroke-width="0.5"/>
<line x1="321.2" y1="473.062" x2="330" y2="473.062" stroke="#2a2162" stroke-width="1.3"/>
<line x1="343.45" y1="480.91" x2="343.45" y2="484.18" stroke="#333" stroke-width="0.9"/>
<line x1="341.25" y1="480.91" x2="345.65" y2="480.91" stroke="#333" stroke-width="0.9"/>
<line x1="341.25" y1="492.682" x2="345.65" y2="492.682" stroke="#333" stroke-width="0.9"/>
<line x1="343.45" y1="492.355" x2="343.45" y2="492.682" stroke="#333" stroke-width="0.9"/>
<rect x="339.2" y="484.18" width="8.5" height="8.175000000000011" fill="#8d86cb" stroke="#7a72bd" stroke-width="0.5"/>
<line x1="339.2" y1="484.18" x2="347.7" y2="484.18" stroke="#2a2162" stroke-width="1.3"/>
<line x1="308.5" y1="455.7" x2="323.1" y2="455.7" stroke="#333" stroke-width="0.8"/>
<text x="315.8" y="456.15" font-size="7" text-anchor="middle" fill="#333">**</text>
<line x1="326.9" y1="455.7" x2="342.3" y2="455.7" stroke="#333" stroke-width="0.8"/>
<text x="334.6" y="456.15" font-size="7" text-anchor="middle" fill="#333">**</text>
<line x1="298.8" y1="435.8" x2="298.8" y2="504.40000000000003" stroke="#1e1e1e" stroke-width="1.3"/>
<line x1="298.2" y1="503.8" x2="351.5" y2="503.8" stroke="#1e1e1e" stroke-width="1.3"/>
<line x1="296.5" y1="438.4" x2="298.8" y2="438.4" stroke="#1e1e1e" stroke-width="1.0"/>
<text x="293.0" y="440.75" font-size="6.6" text-anchor="end" fill="#333" textLength="3.39" lengthAdjust="spacingAndGlyphs">0</text>
<line x1="296.5" y1="451.47999999999996" x2="298.8" y2="451.47999999999996" stroke="#1e1e1e" stroke-width="1.0"/>
<text x="293.0" y="453.83" font-size="6.6" text-anchor="end" fill="#333" textLength="6.79" lengthAdjust="spacingAndGlyphs">–2</text>
<line x1="296.5" y1="464.56" x2="298.8" y2="464.56" stroke="#1e1e1e" stroke-width="1.0"/>
<text x="293.0" y="466.91" font-size="6.6" text-anchor="end" fill="#333" textLength="6.79" lengthAdjust="spacingAndGlyphs">–4</text>
<line x1="296.5" y1="477.64" x2="298.8" y2="477.64" stroke="#1e1e1e" stroke-width="1.0"/>
<text x="293.0" y="479.99" font-size="6.6" text-anchor="end" fill="#333" textLength="6.79" lengthAdjust="spacingAndGlyphs">–6</text>
<line x1="296.5" y1="490.72" x2="298.8" y2="490.72" stroke="#1e1e1e" stroke-width="1.0"/>
<text x="293.0" y="493.07000000000005" font-size="6.6" text-anchor="end" fill="#333" textLength="6.79" lengthAdjust="spacingAndGlyphs">–8</text>
<line x1="296.5" y1="503.8" x2="298.8" y2="503.8" stroke="#1e1e1e" stroke-width="1.0"/>
<text x="293.0" y="506.15000000000003" font-size="6.6" text-anchor="end" fill="#333" textLength="10.18" lengthAdjust="spacingAndGlyphs">–10</text>
<line x1="307.7" y1="503.8" x2="307.7" y2="506.1" stroke="#1e1e1e" stroke-width="1.0"/>
<line x1="325.7" y1="503.8" x2="325.7" y2="506.1" stroke="#1e1e1e" stroke-width="1.0"/>
<line x1="343.1" y1="503.8" x2="343.1" y2="506.1" stroke="#1e1e1e" stroke-width="1.0"/>
<text x="309.4" y="510.1" font-size="6.7" text-anchor="end" fill="#333" textLength="15.6" lengthAdjust="spacingAndGlyphs" transform="rotate(-90 309.4 510.1)">None</text>
<text x="327.4" y="510.1" font-size="6.7" text-anchor="end" fill="#333" textLength="17.3" lengthAdjust="spacingAndGlyphs" transform="rotate(-90 327.4 510.1)">“7+3”</text>
<text x="344.8" y="510.1" font-size="6.7" text-anchor="end" fill="#333" textLength="25.4" lengthAdjust="spacingAndGlyphs" transform="rotate(-90 344.8 510.1)">CPX-351</text>
<text x="411" y="423.3" font-size="6.8" text-anchor="middle" fill="#333" textLength="30.2" lengthAdjust="spacingAndGlyphs" class="t">Putrescine</text>
<text x="411" y="431.1" font-size="6.8" text-anchor="middle" fill="#333" textLength="48.4" lengthAdjust="spacingAndGlyphs" class="t">transport system</text>
<line x1="393.45000000000005" y1="465.868" x2="393.45000000000005" y2="474.37" stroke="#333" stroke-width="0.9"/>
<line x1="391.25000000000006" y1="465.868" x2="395.65000000000003" y2="465.868" stroke="#333" stroke-width="0.9"/>
<line x1="391.25000000000006" y1="492.682" x2="395.65000000000003" y2="492.682" stroke="#333" stroke-width="0.9"/>
<line x1="393.45000000000005" y1="488.104" x2="393.45000000000005" y2="492.682" stroke="#333" stroke-width="0.9"/>
<rect x="388.8" y="474.37" width="9.300000000000011" height="13.73399999999998" fill="#8d86cb" stroke="#7a72bd" stroke-width="0.5"/>
<line x1="388.8" y1="479.275" x2="398.1" y2="479.275" stroke="#2a2162" stroke-width="1.3"/>
<line x1="411.15" y1="458.02" x2="411.15" y2="459.328" stroke="#333" stroke-width="0.9"/>
<line x1="408.95" y1="458.02" x2="413.34999999999997" y2="458.02" stroke="#333" stroke-width="0.9"/>
<line x1="408.95" y1="488.104" x2="413.34999999999997" y2="488.104" stroke="#333" stroke-width="0.9"/>
<line x1="411.15" y1="479.929" x2="411.15" y2="488.104" stroke="#333" stroke-width="0.9"/>
<rect x="406.5" y="459.328" width="9.300000000000011" height="20.601" fill="#8d86cb" stroke="#7a72bd" stroke-width="0.5"/>
<line x1="406.5" y1="470.11899999999997" x2="415.8" y2="470.11899999999997" stroke="#2a2162" stroke-width="1.3"/>
<line x1="428.85" y1="480.91" x2="428.85" y2="481.564" stroke="#333" stroke-width="0.9"/>
<line x1="426.65000000000003" y1="480.91" x2="431.05" y2="480.91" stroke="#333" stroke-width="0.9"/>
<line x1="426.65000000000003" y1="493.009" x2="431.05" y2="493.009" stroke="#333" stroke-width="0.9"/>
<line x1="428.85" y1="492.682" x2="428.85" y2="493.009" stroke="#333" stroke-width="0.9"/>
<rect x="424.7" y="481.564" width="8.300000000000011" height="11.117999999999995" fill="#8d86cb" stroke="#7a72bd" stroke-width="0.5"/>
<line x1="424.7" y1="484.834" x2="433" y2="484.834" stroke="#2a2162" stroke-width="1.3"/>
<line x1="409.6" y1="454.3" x2="425.5" y2="454.3" stroke="#333" stroke-width="0.8"/>
<text x="417.55" y="454.75" font-size="7" text-anchor="middle" fill="#333">*</text>
<line x1="384.2" y1="435.8" x2="384.2" y2="504.40000000000003" stroke="#1e1e1e" stroke-width="1.3"/>
<line x1="383.59999999999997" y1="503.8" x2="436.5" y2="503.8" stroke="#1e1e1e" stroke-width="1.3"/>
<line x1="381.9" y1="438.4" x2="384.2" y2="438.4" stroke="#1e1e1e" stroke-width="1.0"/>
<text x="378.4" y="440.75" font-size="6.6" text-anchor="end" fill="#333" textLength="3.39" lengthAdjust="spacingAndGlyphs">0</text>
<line x1="381.9" y1="451.47999999999996" x2="384.2" y2="451.47999999999996" stroke="#1e1e1e" stroke-width="1.0"/>
<text x="378.4" y="453.83" font-size="6.6" text-anchor="end" fill="#333" textLength="6.79" lengthAdjust="spacingAndGlyphs">–2</text>
<line x1="381.9" y1="464.56" x2="384.2" y2="464.56" stroke="#1e1e1e" stroke-width="1.0"/>
<text x="378.4" y="466.91" font-size="6.6" text-anchor="end" fill="#333" textLength="6.79" lengthAdjust="spacingAndGlyphs">–4</text>
<line x1="381.9" y1="477.64" x2="384.2" y2="477.64" stroke="#1e1e1e" stroke-width="1.0"/>
<text x="378.4" y="479.99" font-size="6.6" text-anchor="end" fill="#333" textLength="6.79" lengthAdjust="spacingAndGlyphs">–6</text>
<line x1="381.9" y1="490.72" x2="384.2" y2="490.72" stroke="#1e1e1e" stroke-width="1.0"/>
<text x="378.4" y="493.07000000000005" font-size="6.6" text-anchor="end" fill="#333" textLength="6.79" lengthAdjust="spacingAndGlyphs">–8</text>
<line x1="381.9" y1="503.8" x2="384.2" y2="503.8" stroke="#1e1e1e" stroke-width="1.0"/>
<text x="378.4" y="506.15000000000003" font-size="6.6" text-anchor="end" fill="#333" textLength="10.18" lengthAdjust="spacingAndGlyphs">–10</text>
<line x1="393.5" y1="503.8" x2="393.5" y2="506.1" stroke="#1e1e1e" stroke-width="1.0"/>
<line x1="411.2" y1="503.8" x2="411.2" y2="506.1" stroke="#1e1e1e" stroke-width="1.0"/>
<line x1="428.5" y1="503.8" x2="428.5" y2="506.1" stroke="#1e1e1e" stroke-width="1.0"/>
<text x="395.2" y="510.1" font-size="6.7" text-anchor="end" fill="#333" textLength="15.6" lengthAdjust="spacingAndGlyphs" transform="rotate(-90 395.2 510.1)">None</text>
<text x="412.9" y="510.1" font-size="6.7" text-anchor="end" fill="#333" textLength="17.3" lengthAdjust="spacingAndGlyphs" transform="rotate(-90 412.9 510.1)">“7+3”</text>
<text x="430.2" y="510.1" font-size="6.7" text-anchor="end" fill="#333" textLength="25.4" lengthAdjust="spacingAndGlyphs" transform="rotate(-90 430.2 510.1)">CPX-351</text>
<text x="75" y="563.7" font-size="6.8" text-anchor="middle" fill="#333" textLength="10.8" lengthAdjust="spacingAndGlyphs" class="t">AI-2</text>
<text x="75.85" y="571.3" font-size="6.8" text-anchor="middle" fill="#333" textLength="48.1" lengthAdjust="spacingAndGlyphs" class="t">transport system</text>
<line x1="57.95" y1="603.752" x2="57.95" y2="606.6949999999999" stroke="#333" stroke-width="0.9"/>
<line x1="55.75" y1="603.752" x2="60.150000000000006" y2="603.752" stroke="#333" stroke-width="0.9"/>
<line x1="55.75" y1="632.5279999999999" x2="60.150000000000006" y2="632.5279999999999" stroke="#333" stroke-width="0.9"/>
<line x1="57.95" y1="618.467" x2="57.95" y2="632.5279999999999" stroke="#333" stroke-width="0.9"/>
<rect x="53.4" y="606.6949999999999" width="9.100000000000001" height="11.772000000000048" fill="#8d86cb" stroke="#7a72bd" stroke-width="0.5"/>
<line x1="53.4" y1="610.2919999999999" x2="62.5" y2="610.2919999999999" stroke="#2a2162" stroke-width="1.3"/>
<line x1="75.1" y1="612.2539999999999" x2="75.1" y2="614.87" stroke="#333" stroke-width="0.9"/>
<line x1="72.89999999999999" y1="612.2539999999999" x2="77.3" y2="612.2539999999999" stroke="#333" stroke-width="0.9"/>
<line x1="72.89999999999999" y1="637.76" x2="77.3" y2="637.76" stroke="#333" stroke-width="0.9"/>
<line x1="75.1" y1="637.76" x2="75.1" y2="637.76" stroke="#333" stroke-width="0.9"/>
<rect x="70.4" y="614.87" width="9.399999999999991" height="22.889999999999986" fill="#8d86cb" stroke="#7a72bd" stroke-width="0.5"/>
<line x1="70.4" y1="631.2199999999999" x2="79.8" y2="631.2199999999999" stroke="#2a2162" stroke-width="1.3"/>
<line x1="93.1" y1="614.543" x2="93.1" y2="616.832" stroke="#333" stroke-width="0.9"/>
<line x1="90.89999999999999" y1="614.543" x2="95.3" y2="614.543" stroke="#333" stroke-width="0.9"/>
<line x1="90.89999999999999" y1="633.182" x2="95.3" y2="633.182" stroke="#333" stroke-width="0.9"/>
<line x1="93.1" y1="626.3149999999999" x2="93.1" y2="633.182" stroke="#333" stroke-width="0.9"/>
<rect x="88.6" y="616.832" width="9.0" height="9.482999999999947" fill="#8d86cb" stroke="#7a72bd" stroke-width="0.5"/>
<line x1="88.6" y1="618.794" x2="97.6" y2="618.794" stroke="#2a2162" stroke-width="1.3"/>
<line x1="56.5" y1="600" x2="73" y2="600" stroke="#333" stroke-width="0.8"/>
<text x="64.75" y="600.45" font-size="7" text-anchor="middle" fill="#333">*</text>
<line x1="48.8" y1="576.5" x2="48.8" y2="644.9" stroke="#1e1e1e" stroke-width="1.3"/>
<line x1="48.199999999999996" y1="644.3" x2="101.5" y2="644.3" stroke="#1e1e1e" stroke-width="1.3"/>
<line x1="46.5" y1="578.9" x2="48.8" y2="578.9" stroke="#1e1e1e" stroke-width="1.0"/>
<text x="43.0" y="581.25" font-size="6.6" text-anchor="end" fill="#333" textLength="3.39" lengthAdjust="spacingAndGlyphs">0</text>
<line x1="46.5" y1="591.98" x2="48.8" y2="591.98" stroke="#1e1e1e" stroke-width="1.0"/>
<text x="43.0" y="594.33" font-size="6.6" text-anchor="end" fill="#333" textLength="6.79" lengthAdjust="spacingAndGlyphs">–2</text>
<line x1="46.5" y1="605.06" x2="48.8" y2="605.06" stroke="#1e1e1e" stroke-width="1.0"/>
<text x="43.0" y="607.41" font-size="6.6" text-anchor="end" fill="#333" textLength="6.79" lengthAdjust="spacingAndGlyphs">–4</text>
<line x1="46.5" y1="618.14" x2="48.8" y2="618.14" stroke="#1e1e1e" stroke-width="1.0"/>
<text x="43.0" y="620.49" font-size="6.6" text-anchor="end" fill="#333" textLength="6.79" lengthAdjust="spacingAndGlyphs">–6</text>
<line x1="46.5" y1="631.2199999999999" x2="48.8" y2="631.2199999999999" stroke="#1e1e1e" stroke-width="1.0"/>
<text x="43.0" y="633.5699999999999" font-size="6.6" text-anchor="end" fill="#333" textLength="6.79" lengthAdjust="spacingAndGlyphs">–8</text>
<line x1="46.5" y1="644.3" x2="48.8" y2="644.3" stroke="#1e1e1e" stroke-width="1.0"/>
<text x="43.0" y="646.65" font-size="6.6" text-anchor="end" fill="#333" textLength="10.18" lengthAdjust="spacingAndGlyphs">–10</text>
<line x1="57.8" y1="644.3" x2="57.8" y2="646.5999999999999" stroke="#1e1e1e" stroke-width="1.0"/>
<line x1="75.5" y1="644.3" x2="75.5" y2="646.5999999999999" stroke="#1e1e1e" stroke-width="1.0"/>
<line x1="93.2" y1="644.3" x2="93.2" y2="646.5999999999999" stroke="#1e1e1e" stroke-width="1.0"/>
<text x="59.5" y="650.5999999999999" font-size="6.7" text-anchor="end" fill="#333" textLength="15.6" lengthAdjust="spacingAndGlyphs" transform="rotate(-90 59.5 650.5999999999999)">None</text>
<text x="77.2" y="650.5999999999999" font-size="6.7" text-anchor="end" fill="#333" textLength="17.3" lengthAdjust="spacingAndGlyphs" transform="rotate(-90 77.2 650.5999999999999)">“7+3”</text>
<text x="94.9" y="650.5999999999999" font-size="6.7" text-anchor="end" fill="#333" textLength="25.4" lengthAdjust="spacingAndGlyphs" transform="rotate(-90 94.9 650.5999999999999)">CPX-351</text>
<text x="161.1" y="563.7" font-size="6.8" text-anchor="middle" fill="#333" textLength="71.5" lengthAdjust="spacingAndGlyphs" class="t">Glutathione biosynthesis,</text>
<text x="161.6" y="571.3" font-size="6.8" text-anchor="middle" fill="#333" textLength="68.4" lengthAdjust="spacingAndGlyphs" class="t">glutamate-&gt;glutathione</text>
<line x1="144.1" y1="590.7574999999999" x2="144.1" y2="605.36" stroke="#333" stroke-width="0.9"/>
<line x1="141.9" y1="590.7574999999999" x2="146.29999999999998" y2="590.7574999999999" stroke="#333" stroke-width="0.9"/>
<line x1="141.9" y1="620.77375" x2="146.29999999999998" y2="620.77375" stroke="#333" stroke-width="0.9"/>
<line x1="144.1" y1="618.3399999999999" x2="144.1" y2="620.77375" stroke="#333" stroke-width="0.9"/>
<rect x="139.5" y="605.36" width="9.199999999999989" height="12.979999999999905" fill="#8d86cb" stroke="#7a72bd" stroke-width="0.5"/>
<line x1="139.5" y1="615.90625" x2="148.7" y2="615.90625" stroke="#2a2162" stroke-width="1.3"/>
<line x1="161.9" y1="612.66125" x2="161.9" y2="617.52875" stroke="#333" stroke-width="0.9"/>
<line x1="159.70000000000002" y1="612.66125" x2="164.1" y2="612.66125" stroke="#333" stroke-width="0.9"/>
<line x1="159.70000000000002" y1="638.6212499999999" x2="164.1" y2="638.6212499999999" stroke="#333" stroke-width="0.9"/>
<line x1="161.9" y1="636.1875" x2="161.9" y2="638.6212499999999" stroke="#333" stroke-width="0.9"/>
<rect x="157.4" y="617.52875" width="9.0" height="18.658750000000055" fill="#8d86cb" stroke="#7a72bd" stroke-width="0.5"/>
<line x1="157.4" y1="624.01875" x2="166.4" y2="624.01875" stroke="#2a2162" stroke-width="1.3"/>
<line x1="179.5" y1="600.4925" x2="179.5" y2="602.115" stroke="#333" stroke-width="0.9"/>
<line x1="177.3" y1="600.4925" x2="181.7" y2="600.4925" stroke="#333" stroke-width="0.9"/>
<line x1="177.3" y1="613.4725" x2="181.7" y2="613.4725" stroke="#333" stroke-width="0.9"/>
<line x1="179.5" y1="610.2275" x2="179.5" y2="613.4725" stroke="#333" stroke-width="0.9"/>
<rect x="175" y="602.115" width="9" height="8.112499999999955" fill="#8d86cb" stroke="#7a72bd" stroke-width="0.5"/>
<line x1="175" y1="607.7937499999999" x2="184" y2="607.7937499999999" stroke="#2a2162" stroke-width="1.3"/>
<line x1="143.6" y1="586.3" x2="160" y2="586.3" stroke="#333" stroke-width="0.8"/>
<text x="151.8" y="586.75" font-size="7" text-anchor="middle" fill="#333">*</text>
<line x1="163.1" y1="594.7" x2="179" y2="594.7" stroke="#333" stroke-width="0.8"/>
<text x="171.05" y="595.1500000000001" font-size="7" text-anchor="middle" fill="#333">**</text>
<line x1="135.4" y1="576.5" x2="135.4" y2="644.9" stroke="#1e1e1e" stroke-width="1.3"/>
<line x1="134.8" y1="644.3" x2="186.9" y2="644.3" stroke="#1e1e1e" stroke-width="1.3"/>
<line x1="133.1" y1="579.4" x2="135.4" y2="579.4" stroke="#1e1e1e" stroke-width="1.0"/>
<text x="129.6" y="581.75" font-size="6.6" text-anchor="end" fill="#333" textLength="3.39" lengthAdjust="spacingAndGlyphs">3</text>
<line x1="133.1" y1="595.625" x2="135.4" y2="595.625" stroke="#1e1e1e" stroke-width="1.0"/>
<text x="129.6" y="597.975" font-size="6.6" text-anchor="end" fill="#333" textLength="3.39" lengthAdjust="spacingAndGlyphs">2</text>
<line x1="133.1" y1="611.8499999999999" x2="135.4" y2="611.8499999999999" stroke="#1e1e1e" stroke-width="1.0"/>
<text x="129.6" y="614.1999999999999" font-size="6.6" text-anchor="end" fill="#333" textLength="3.39" lengthAdjust="spacingAndGlyphs">1</text>
<line x1="133.1" y1="628.0749999999999" x2="135.4" y2="628.0749999999999" stroke="#1e1e1e" stroke-width="1.0"/>
<text x="129.6" y="630.425" font-size="6.6" text-anchor="end" fill="#333" textLength="3.39" lengthAdjust="spacingAndGlyphs">0</text>
<line x1="133.1" y1="644.3" x2="135.4" y2="644.3" stroke="#1e1e1e" stroke-width="1.0"/>
<text x="129.6" y="646.65" font-size="6.6" text-anchor="end" fill="#333" textLength="6.79" lengthAdjust="spacingAndGlyphs">–1</text>
<line x1="144.1" y1="644.3" x2="144.1" y2="646.5999999999999" stroke="#1e1e1e" stroke-width="1.0"/>
<line x1="161.7" y1="644.3" x2="161.7" y2="646.5999999999999" stroke="#1e1e1e" stroke-width="1.0"/>
<line x1="179.4" y1="644.3" x2="179.4" y2="646.5999999999999" stroke="#1e1e1e" stroke-width="1.0"/>
<text x="145.79999999999998" y="650.5999999999999" font-size="6.7" text-anchor="end" fill="#333" textLength="15.6" lengthAdjust="spacingAndGlyphs" transform="rotate(-90 145.79999999999998 650.5999999999999)">None</text>
<text x="163.39999999999998" y="650.5999999999999" font-size="6.7" text-anchor="end" fill="#333" textLength="17.3" lengthAdjust="spacingAndGlyphs" transform="rotate(-90 163.39999999999998 650.5999999999999)">“7+3”</text>
<text x="181.1" y="650.5999999999999" font-size="6.7" text-anchor="end" fill="#333" textLength="25.4" lengthAdjust="spacingAndGlyphs" transform="rotate(-90 181.1 650.5999999999999)">CPX-351</text>
<text x="246.8" y="556.6" font-size="6.8" text-anchor="middle" fill="#333" textLength="34.6" lengthAdjust="spacingAndGlyphs" class="t">PTS system,</text>
<text x="246.8" y="564.2" font-size="6.8" text-anchor="middle" fill="#333" textLength="46.2" lengthAdjust="spacingAndGlyphs" class="t">glucitol/sorbitol</text>
<text x="247.1" y="571.8" font-size="6.8" text-anchor="middle" fill="#333" textLength="61.3" lengthAdjust="spacingAndGlyphs" class="t">specific II component</text>
<line x1="229.5" y1="586.396" x2="229.5" y2="597.8452" stroke="#333" stroke-width="0.9"/>
<line x1="227.3" y1="586.396" x2="231.7" y2="586.396" stroke="#333" stroke-width="0.9"/>
<line x1="227.3" y1="612.058" x2="231.7" y2="612.058" stroke="#333" stroke-width="0.9"/>
<line x1="229.5" y1="606.5308" x2="229.5" y2="612.058" stroke="#333" stroke-width="0.9"/>
<rect x="224.8" y="597.8452" width="9.399999999999977" height="8.685600000000022" fill="#8d86cb" stroke="#7a72bd" stroke-width="0.5"/>
<line x1="224.8" y1="601.7932" x2="234.2" y2="601.7932" stroke="#2a2162" stroke-width="1.3"/>
<line x1="247.14999999999998" y1="601.2668" x2="247.14999999999998" y2="605.0832" stroke="#333" stroke-width="0.9"/>
<line x1="244.95" y1="601.2668" x2="249.34999999999997" y2="601.2668" stroke="#333" stroke-width="0.9"/>
<line x1="244.95" y1="633.1139999999999" x2="249.34999999999997" y2="633.1139999999999" stroke="#333" stroke-width="0.9"/>
<line x1="247.14999999999998" y1="629.824" x2="247.14999999999998" y2="633.1139999999999" stroke="#333" stroke-width="0.9"/>
<rect x="242.7" y="605.0832" width="8.900000000000006" height="24.740799999999922" fill="#8d86cb" stroke="#7a72bd" stroke-width="0.5"/>
<line x1="242.7" y1="615.348" x2="251.6" y2="615.348" stroke="#2a2162" stroke-width="1.3"/>
<line x1="265.0" y1="598.24" x2="265.0" y2="598.24" stroke="#333" stroke-width="0.9"/>
<line x1="262.8" y1="598.24" x2="267.2" y2="598.24" stroke="#333" stroke-width="0.9"/>
<line x1="262.8" y1="609.4259999999999" x2="267.2" y2="609.4259999999999" stroke="#333" stroke-width="0.9"/>
<line x1="265.0" y1="606.136" x2="265.0" y2="609.4259999999999" stroke="#333" stroke-width="0.9"/>
<rect x="260.4" y="598.24" width="9.200000000000045" height="7.895999999999958" fill="#8d86cb" stroke="#7a72bd" stroke-width="0.5"/>
<line x1="260.4" y1="602.5828" x2="269.6" y2="602.5828" stroke="#2a2162" stroke-width="1.3"/>
<line x1="229.6" y1="583.5" x2="244.2" y2="583.5" stroke="#333" stroke-width="0.8"/>
<text x="236.89999999999998" y="583.95" font-size="7" text-anchor="middle" fill="#333">*</text>
<line x1="248.4" y1="583.5" x2="263.2" y2="583.5" stroke="#333" stroke-width="0.8"/>
<text x="255.8" y="583.95" font-size="7" text-anchor="middle" fill="#333">*</text>
<line x1="220.1" y1="576.5" x2="220.1" y2="644.9" stroke="#1e1e1e" stroke-width="1.3"/>
<line x1="219.5" y1="644.3" x2="273.1" y2="644.3" stroke="#1e1e1e" stroke-width="1.3"/>
<line x1="217.79999999999998" y1="578.5" x2="220.1" y2="578.5" stroke="#1e1e1e" stroke-width="1.0"/>
<text x="214.29999999999998" y="580.85" font-size="6.6" text-anchor="end" fill="#333" textLength="3.39" lengthAdjust="spacingAndGlyphs">2</text>
<line x1="217.79999999999998" y1="591.66" x2="220.1" y2="591.66" stroke="#1e1e1e" stroke-width="1.0"/>
<text x="214.29999999999998" y="594.01" font-size="6.6" text-anchor="end" fill="#333" textLength="3.39" lengthAdjust="spacingAndGlyphs">1</text>
<line x1="217.79999999999998" y1="604.8199999999999" x2="220.1" y2="604.8199999999999" stroke="#1e1e1e" stroke-width="1.0"/>
<text x="214.29999999999998" y="607.17" font-size="6.6" text-anchor="end" fill="#333" textLength="3.39" lengthAdjust="spacingAndGlyphs">0</text>
<line x1="217.79999999999998" y1="617.98" x2="220.1" y2="617.98" stroke="#1e1e1e" stroke-width="1.0"/>
<text x="214.29999999999998" y="620.33" font-size="6.6" text-anchor="end" fill="#333" textLength="6.79" lengthAdjust="spacingAndGlyphs">–1</text>
<line x1="217.79999999999998" y1="631.14" x2="220.1" y2="631.14" stroke="#1e1e1e" stroke-width="1.0"/>
<text x="214.29999999999998" y="633.49" font-size="6.6" text-anchor="end" fill="#333" textLength="6.79" lengthAdjust="spacingAndGlyphs">–2</text>
<line x1="217.79999999999998" y1="644.3" x2="220.1" y2="644.3" stroke="#1e1e1e" stroke-width="1.0"/>
<text x="214.29999999999998" y="646.65" font-size="6.6" text-anchor="end" fill="#333" textLength="6.79" lengthAdjust="spacingAndGlyphs">–3</text>
<line x1="229.4" y1="644.3" x2="229.4" y2="646.5999999999999" stroke="#1e1e1e" stroke-width="1.0"/>
<line x1="247.1" y1="644.3" x2="247.1" y2="646.5999999999999" stroke="#1e1e1e" stroke-width="1.0"/>
<line x1="264.9" y1="644.3" x2="264.9" y2="646.5999999999999" stroke="#1e1e1e" stroke-width="1.0"/>
<text x="231.1" y="650.5999999999999" font-size="6.7" text-anchor="end" fill="#333" textLength="15.6" lengthAdjust="spacingAndGlyphs" transform="rotate(-90 231.1 650.5999999999999)">None</text>
<text x="248.79999999999998" y="650.5999999999999" font-size="6.7" text-anchor="end" fill="#333" textLength="17.3" lengthAdjust="spacingAndGlyphs" transform="rotate(-90 248.79999999999998 650.5999999999999)">“7+3”</text>
<text x="266.59999999999997" y="650.5999999999999" font-size="6.7" text-anchor="end" fill="#333" textLength="25.4" lengthAdjust="spacingAndGlyphs" transform="rotate(-90 266.59999999999997 650.5999999999999)">CPX-351</text>
<text x="330.1" y="556.6" font-size="6.8" text-anchor="middle" fill="#333" textLength="34.6" lengthAdjust="spacingAndGlyphs" class="t">PTS system,</text>
<text x="329.8" y="564.2" font-size="6.8" text-anchor="middle" fill="#333" textLength="47.9" lengthAdjust="spacingAndGlyphs" class="t">galactitol-specific</text>
<text x="330.3" y="571.8" font-size="6.8" text-anchor="middle" fill="#333" textLength="38.6" lengthAdjust="spacingAndGlyphs" class="t">II component</text>
<line x1="312.95" y1="592.7176666666667" x2="312.95" y2="605.678" stroke="#333" stroke-width="0.9"/>
<line x1="310.75" y1="592.7176666666667" x2="315.15" y2="592.7176666666667" stroke="#333" stroke-width="0.9"/>
<line x1="310.75" y1="621.9333333333333" x2="315.15" y2="621.9333333333333" stroke="#333" stroke-width="0.9"/>
<line x1="312.95" y1="615.1236666666666" x2="312.95" y2="621.9333333333333" stroke="#333" stroke-width="0.9"/>
<rect x="308.5" y="605.678" width="8.899999999999977" height="9.445666666666625" fill="#8d86cb" stroke="#7a72bd" stroke-width="0.5"/>
<line x1="308.5" y1="610.6205" x2="317.4" y2="610.6205" stroke="#2a2162" stroke-width="1.3"/>
<line x1="330.15" y1="601.5043333333333" x2="330.15" y2="603.2616666666667" stroke="#333" stroke-width="0.9"/>
<line x1="327.95" y1="601.5043333333333" x2="332.34999999999997" y2="601.5043333333333" stroke="#333" stroke-width="0.9"/>
<line x1="327.95" y1="637.7493333333333" x2="332.34999999999997" y2="637.7493333333333" stroke="#333" stroke-width="0.9"/>
<line x1="330.15" y1="634.2346666666666" x2="330.15" y2="637.7493333333333" stroke="#333" stroke-width="0.9"/>
<rect x="325.7" y="603.2616666666667" width="8.900000000000034" height="30.972999999999956" fill="#8d86cb" stroke="#7a72bd" stroke-width="0.5"/>
<line x1="325.7" y1="619.7366666666667" x2="334.6" y2="619.7366666666667" stroke="#2a2162" stroke-width="1.3"/>
<line x1="347.70000000000005" y1="586.567" x2="347.70000000000005" y2="590.521" stroke="#333" stroke-width="0.9"/>
<line x1="345.50000000000006" y1="586.567" x2="349.90000000000003" y2="586.567" stroke="#333" stroke-width="0.9"/>
<line x1="345.50000000000006" y1="603.9206666666666" x2="349.90000000000003" y2="603.9206666666666" stroke="#333" stroke-width="0.9"/>
<line x1="347.70000000000005" y1="603.4813333333333" x2="347.70000000000005" y2="603.9206666666666" stroke="#333" stroke-width="0.9"/>
<rect x="343.1" y="590.521" width="9.199999999999989" height="12.960333333333324" fill="#8d86cb" stroke="#7a72bd" stroke-width="0.5"/>
<line x1="343.1" y1="600.8453333333333" x2="352.3" y2="600.8453333333333" stroke="#2a2162" stroke-width="1.3"/>
<line x1="330.3" y1="583.3" x2="345.1" y2="583.3" stroke="#333" stroke-width="0.8"/>
<text x="337.70000000000005" y="583.75" font-size="7" text-anchor="middle" fill="#333">*</text>
<line x1="303.8" y1="576.5" x2="303.8" y2="644.9" stroke="#1e1e1e" stroke-width="1.3"/>
<line x1="303.2" y1="644.3" x2="356.5" y2="644.3" stroke="#1e1e1e" stroke-width="1.3"/>
<line x1="301.5" y1="578.0" x2="303.8" y2="578.0" stroke="#1e1e1e" stroke-width="1.0"/>
<text x="298.0" y="580.35" font-size="6.6" text-anchor="end" fill="#333" textLength="3.39" lengthAdjust="spacingAndGlyphs">3</text>
<line x1="301.5" y1="599.9666666666667" x2="303.8" y2="599.9666666666667" stroke="#1e1e1e" stroke-width="1.0"/>
<text x="298.0" y="602.3166666666667" font-size="6.6" text-anchor="end" fill="#333" textLength="3.39" lengthAdjust="spacingAndGlyphs">2</text>
<line x1="301.5" y1="621.9333333333333" x2="303.8" y2="621.9333333333333" stroke="#1e1e1e" stroke-width="1.0"/>
<text x="298.0" y="624.2833333333333" font-size="6.6" text-anchor="end" fill="#333" textLength="3.39" lengthAdjust="spacingAndGlyphs">1</text>
<line x1="301.5" y1="643.9" x2="303.8" y2="643.9" stroke="#1e1e1e" stroke-width="1.0"/>
<text x="298.0" y="646.25" font-size="6.6" text-anchor="end" fill="#333" textLength="3.39" lengthAdjust="spacingAndGlyphs">0</text>
<line x1="313" y1="644.3" x2="313" y2="646.5999999999999" stroke="#1e1e1e" stroke-width="1.0"/>
<line x1="330.6" y1="644.3" x2="330.6" y2="646.5999999999999" stroke="#1e1e1e" stroke-width="1.0"/>
<line x1="348.2" y1="644.3" x2="348.2" y2="646.5999999999999" stroke="#1e1e1e" stroke-width="1.0"/>
<text x="314.7" y="650.5999999999999" font-size="6.7" text-anchor="end" fill="#333" textLength="15.6" lengthAdjust="spacingAndGlyphs" transform="rotate(-90 314.7 650.5999999999999)">None</text>
<text x="332.3" y="650.5999999999999" font-size="6.7" text-anchor="end" fill="#333" textLength="17.3" lengthAdjust="spacingAndGlyphs" transform="rotate(-90 332.3 650.5999999999999)">“7+3”</text>
<text x="349.9" y="650.5999999999999" font-size="6.7" text-anchor="end" fill="#333" textLength="25.4" lengthAdjust="spacingAndGlyphs" transform="rotate(-90 349.9 650.5999999999999)">CPX-351</text>
<line x1="302.1" y1="578.0" x2="303.8" y2="578.0" stroke="#1e1e1e" stroke-width="0.65"/>
<line x1="302.1" y1="580.1966666666667" x2="303.8" y2="580.1966666666667" stroke="#1e1e1e" stroke-width="0.65"/>
<line x1="302.1" y1="582.3933333333334" x2="303.8" y2="582.3933333333334" stroke="#1e1e1e" stroke-width="0.65"/>
<line x1="302.1" y1="584.5900000000001" x2="303.8" y2="584.5900000000001" stroke="#1e1e1e" stroke-width="0.65"/>
<line x1="302.1" y1="586.7866666666669" x2="303.8" y2="586.7866666666669" stroke="#1e1e1e" stroke-width="0.65"/>
<line x1="302.1" y1="588.9833333333336" x2="303.8" y2="588.9833333333336" stroke="#1e1e1e" stroke-width="0.65"/>
<line x1="302.1" y1="591.1800000000003" x2="303.8" y2="591.1800000000003" stroke="#1e1e1e" stroke-width="0.65"/>
<line x1="302.1" y1="593.376666666667" x2="303.8" y2="593.376666666667" stroke="#1e1e1e" stroke-width="0.65"/>
<line x1="302.1" y1="595.5733333333337" x2="303.8" y2="595.5733333333337" stroke="#1e1e1e" stroke-width="0.65"/>
<line x1="302.1" y1="597.7700000000004" x2="303.8" y2="597.7700000000004" stroke="#1e1e1e" stroke-width="0.65"/>
<line x1="302.1" y1="599.9666666666672" x2="303.8" y2="599.9666666666672" stroke="#1e1e1e" stroke-width="0.65"/>
<line x1="302.1" y1="602.1633333333339" x2="303.8" y2="602.1633333333339" stroke="#1e1e1e" stroke-width="0.65"/>
<line x1="302.1" y1="604.3600000000006" x2="303.8" y2="604.3600000000006" stroke="#1e1e1e" stroke-width="0.65"/>
<line x1="302.1" y1="606.5566666666673" x2="303.8" y2="606.5566666666673" stroke="#1e1e1e" stroke-width="0.65"/>
<line x1="302.1" y1="608.753333333334" x2="303.8" y2="608.753333333334" stroke="#1e1e1e" stroke-width="0.65"/>
<line x1="302.1" y1="610.9500000000007" x2="303.8" y2="610.9500000000007" stroke="#1e1e1e" stroke-width="0.65"/>
<line x1="302.1" y1="613.1466666666674" x2="303.8" y2="613.1466666666674" stroke="#1e1e1e" stroke-width="0.65"/>
<line x1="302.1" y1="615.3433333333342" x2="303.8" y2="615.3433333333342" stroke="#1e1e1e" stroke-width="0.65"/>
<line x1="302.1" y1="617.5400000000009" x2="303.8" y2="617.5400000000009" stroke="#1e1e1e" stroke-width="0.65"/>
<line x1="302.1" y1="619.7366666666676" x2="303.8" y2="619.7366666666676" stroke="#1e1e1e" stroke-width="0.65"/>
<line x1="302.1" y1="621.9333333333343" x2="303.8" y2="621.9333333333343" stroke="#1e1e1e" stroke-width="0.65"/>
<line x1="302.1" y1="624.130000000001" x2="303.8" y2="624.130000000001" stroke="#1e1e1e" stroke-width="0.65"/>
<line x1="302.1" y1="626.3266666666677" x2="303.8" y2="626.3266666666677" stroke="#1e1e1e" stroke-width="0.65"/>
<line x1="302.1" y1="628.5233333333344" x2="303.8" y2="628.5233333333344" stroke="#1e1e1e" stroke-width="0.65"/>
<line x1="302.1" y1="630.7200000000012" x2="303.8" y2="630.7200000000012" stroke="#1e1e1e" stroke-width="0.65"/>
<line x1="302.1" y1="632.9166666666679" x2="303.8" y2="632.9166666666679" stroke="#1e1e1e" stroke-width="0.65"/>
<line x1="302.1" y1="635.1133333333346" x2="303.8" y2="635.1133333333346" stroke="#1e1e1e" stroke-width="0.65"/>
<line x1="302.1" y1="637.3100000000013" x2="303.8" y2="637.3100000000013" stroke="#1e1e1e" stroke-width="0.65"/>
<line x1="302.1" y1="639.506666666668" x2="303.8" y2="639.506666666668" stroke="#1e1e1e" stroke-width="0.65"/>
<line x1="302.1" y1="641.7033333333347" x2="303.8" y2="641.7033333333347" stroke="#1e1e1e" stroke-width="0.65"/>
<line x1="302.1" y1="643.9000000000015" x2="303.8" y2="643.9000000000015" stroke="#1e1e1e" stroke-width="0.65"/>
<text x="411" y="556.6" font-size="6.8" text-anchor="middle" fill="#333" textLength="15.5" lengthAdjust="spacingAndGlyphs" class="t">GABA</text>
<text x="411.6" y="564.2" font-size="6.8" text-anchor="middle" fill="#333" textLength="70.9" lengthAdjust="spacingAndGlyphs" class="t">(gamma-Aminobutyrate)</text>
<text x="411.7" y="571.8" font-size="6.8" text-anchor="middle" fill="#333" textLength="14.7" lengthAdjust="spacingAndGlyphs" class="t">shunt</text>
<line x1="394.45" y1="585.08" x2="394.45" y2="599.0625" stroke="#333" stroke-width="0.9"/>
<line x1="392.25" y1="585.08" x2="396.65" y2="585.08" stroke="#333" stroke-width="0.9"/>
<line x1="392.25" y1="615.019" x2="396.65" y2="615.019" stroke="#333" stroke-width="0.9"/>
<line x1="394.45" y1="608.9325" x2="394.45" y2="615.019" stroke="#333" stroke-width="0.9"/>
<rect x="389.7" y="599.0625" width="9.5" height="9.870000000000005" fill="#8d86cb" stroke="#7a72bd" stroke-width="0.5"/>
<line x1="389.7" y1="605.6424999999999" x2="399.2" y2="605.6424999999999" stroke="#2a2162" stroke-width="1.3"/>
<line x1="411.95" y1="606.465" x2="411.95" y2="609.755" stroke="#333" stroke-width="0.9"/>
<line x1="409.75" y1="606.465" x2="414.15" y2="606.465" stroke="#333" stroke-width="0.9"/>
<line x1="409.75" y1="631.14" x2="414.15" y2="631.14" stroke="#333" stroke-width="0.9"/>
<line x1="411.95" y1="627.8499999999999" x2="411.95" y2="631.14" stroke="#333" stroke-width="0.9"/>
<rect x="407.4" y="609.755" width="9.100000000000023" height="18.094999999999914" fill="#8d86cb" stroke="#7a72bd" stroke-width="0.5"/>
<line x1="407.4" y1="618.8025" x2="416.5" y2="618.8025" stroke="#2a2162" stroke-width="1.3"/>
<line x1="429.20000000000005" y1="594.95" x2="429.20000000000005" y2="597.0885" stroke="#333" stroke-width="0.9"/>
<line x1="427.00000000000006" y1="594.95" x2="431.40000000000003" y2="594.95" stroke="#333" stroke-width="0.9"/>
<line x1="427.00000000000006" y1="606.9585" x2="431.40000000000003" y2="606.9585" stroke="#333" stroke-width="0.9"/>
<line x1="429.20000000000005" y1="604.8199999999999" x2="429.20000000000005" y2="606.9585" stroke="#333" stroke-width="0.9"/>
<rect x="424.6" y="597.0885" width="9.199999999999989" height="7.731499999999983" fill="#8d86cb" stroke="#7a72bd" stroke-width="0.5"/>
<line x1="424.6" y1="603.175" x2="433.8" y2="603.175" stroke="#2a2162" stroke-width="1.3"/>
<line x1="393.8" y1="582.4" x2="409.2" y2="582.4" stroke="#333" stroke-width="0.8"/>
<text x="401.5" y="582.85" font-size="7" text-anchor="middle" fill="#333">*</text>
<line x1="412.8" y1="582.4" x2="428.5" y2="582.4" stroke="#333" stroke-width="0.8"/>
<text x="420.65" y="582.85" font-size="7" text-anchor="middle" fill="#333">**</text>
<line x1="384.9" y1="576.5" x2="384.9" y2="644.9" stroke="#1e1e1e" stroke-width="1.3"/>
<line x1="384.29999999999995" y1="644.3" x2="437.5" y2="644.3" stroke="#1e1e1e" stroke-width="1.3"/>
<line x1="382.59999999999997" y1="578.5" x2="384.9" y2="578.5" stroke="#1e1e1e" stroke-width="1.0"/>
<text x="379.09999999999997" y="580.85" font-size="6.6" text-anchor="end" fill="#333" textLength="3.39" lengthAdjust="spacingAndGlyphs">3</text>
<line x1="382.59999999999997" y1="594.95" x2="384.9" y2="594.95" stroke="#1e1e1e" stroke-width="1.0"/>
<text x="379.09999999999997" y="597.3000000000001" font-size="6.6" text-anchor="end" fill="#333" textLength="3.39" lengthAdjust="spacingAndGlyphs">2</text>
<line x1="382.59999999999997" y1="611.4" x2="384.9" y2="611.4" stroke="#1e1e1e" stroke-width="1.0"/>
<text x="379.09999999999997" y="613.75" font-size="6.6" text-anchor="end" fill="#333" textLength="3.39" lengthAdjust="spacingAndGlyphs">1</text>
<line x1="382.59999999999997" y1="627.8499999999999" x2="384.9" y2="627.8499999999999" stroke="#1e1e1e" stroke-width="1.0"/>
<text x="379.09999999999997" y="630.1999999999999" font-size="6.6" text-anchor="end" fill="#333" textLength="3.39" lengthAdjust="spacingAndGlyphs">0</text>
<line x1="382.59999999999997" y1="644.3" x2="384.9" y2="644.3" stroke="#1e1e1e" stroke-width="1.0"/>
<text x="379.09999999999997" y="646.65" font-size="6.6" text-anchor="end" fill="#333" textLength="6.79" lengthAdjust="spacingAndGlyphs">–1</text>
<line x1="394.3" y1="644.3" x2="394.3" y2="646.5999999999999" stroke="#1e1e1e" stroke-width="1.0"/>
<line x1="411.9" y1="644.3" x2="411.9" y2="646.5999999999999" stroke="#1e1e1e" stroke-width="1.0"/>
<line x1="429.5" y1="644.3" x2="429.5" y2="646.5999999999999" stroke="#1e1e1e" stroke-width="1.0"/>
<text x="396.0" y="650.5999999999999" font-size="6.7" text-anchor="end" fill="#333" textLength="15.6" lengthAdjust="spacingAndGlyphs" transform="rotate(-90 396.0 650.5999999999999)">None</text>
<text x="413.59999999999997" y="650.5999999999999" font-size="6.7" text-anchor="end" fill="#333" textLength="17.3" lengthAdjust="spacingAndGlyphs" transform="rotate(-90 413.59999999999997 650.5999999999999)">“7+3”</text>
<text x="431.2" y="650.5999999999999" font-size="6.7" text-anchor="end" fill="#333" textLength="25.4" lengthAdjust="spacingAndGlyphs" transform="rotate(-90 431.2 650.5999999999999)">CPX-351</text>
<text x="31" y="469.6" font-size="8.6" text-anchor="middle" fill="#333" textLength="11" lengthAdjust="spacingAndGlyphs" transform="rotate(-90 31 469.6)">CLR</text>
<text x="27.2" y="610" font-size="8.6" text-anchor="middle" fill="#333" textLength="10.7" lengthAdjust="spacingAndGlyphs" transform="rotate(-90 27.2 610)">CLR</text>
</svg>
</body></html>
